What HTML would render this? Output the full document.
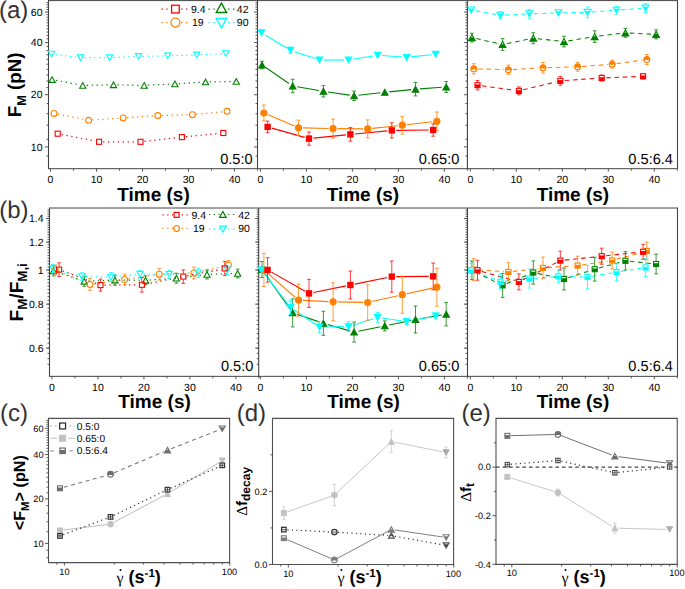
<!DOCTYPE html>
<html><head><meta charset="utf-8"><title>figure</title>
<style>
html,body{margin:0;padding:0;background:#fff;}
body{width:685px;height:589px;overflow:hidden;font-family:"Liberation Sans",sans-serif;}
svg{display:block;}

</style></head><body>
<svg width="685" height="589" viewBox="0 0 685 589" font-family="Liberation Sans, sans-serif" text-rendering="geometricPrecision">
<rect width="100%" height="100%" fill="#fff"/>
<line x1="48" y1="0.6" x2="678" y2="0.6" stroke="#444444" stroke-width="1" stroke-linecap="butt"/>
<line x1="48.5" y1="168.7" x2="677.5" y2="168.7" stroke="#444444" stroke-width="1" stroke-linecap="butt"/>
<line x1="677.5" y1="0.6" x2="677.5" y2="168.7" stroke="#444444" stroke-width="1.1" stroke-linecap="butt"/>
<line x1="48.5" y1="0.6" x2="48.5" y2="169.2" stroke="#444444" stroke-width="1.1" stroke-linecap="butt"/>
<line x1="45" y1="146.9" x2="48.5" y2="146.9" stroke="#444444" stroke-width="0.9" stroke-linecap="butt"/>
<line x1="45" y1="94.73" x2="48.5" y2="94.73" stroke="#444444" stroke-width="0.9" stroke-linecap="butt"/>
<line x1="45" y1="42.56" x2="48.5" y2="42.56" stroke="#444444" stroke-width="0.9" stroke-linecap="butt"/>
<line x1="45" y1="12.05" x2="48.5" y2="12.05" stroke="#444444" stroke-width="0.9" stroke-linecap="butt"/>
<line x1="46.5" y1="156" x2="48.5" y2="156" stroke="#444444" stroke-width="0.9" stroke-linecap="butt"/>
<line x1="46.5" y1="139.3" x2="48.5" y2="139.3" stroke="#444444" stroke-width="0.9" stroke-linecap="butt"/>
<line x1="46.5" y1="125.2" x2="48.5" y2="125.2" stroke="#444444" stroke-width="0.9" stroke-linecap="butt"/>
<line x1="46.5" y1="113.7" x2="48.5" y2="113.7" stroke="#444444" stroke-width="0.9" stroke-linecap="butt"/>
<line x1="46.5" y1="103.6" x2="48.5" y2="103.6" stroke="#444444" stroke-width="0.9" stroke-linecap="butt"/>
<line x1="46.5" y1="87.56" x2="48.5" y2="87.56" stroke="#444444" stroke-width="0.9" stroke-linecap="butt"/>
<line x1="46.5" y1="81.01" x2="48.5" y2="81.01" stroke="#444444" stroke-width="0.9" stroke-linecap="butt"/>
<line x1="46.5" y1="74.99" x2="48.5" y2="74.99" stroke="#444444" stroke-width="0.9" stroke-linecap="butt"/>
<line x1="46.5" y1="69.41" x2="48.5" y2="69.41" stroke="#444444" stroke-width="0.9" stroke-linecap="butt"/>
<line x1="46.5" y1="64.21" x2="48.5" y2="64.21" stroke="#444444" stroke-width="0.9" stroke-linecap="butt"/>
<line x1="46.5" y1="59.36" x2="48.5" y2="59.36" stroke="#444444" stroke-width="0.9" stroke-linecap="butt"/>
<line x1="46.5" y1="54.79" x2="48.5" y2="54.79" stroke="#444444" stroke-width="0.9" stroke-linecap="butt"/>
<line x1="46.5" y1="50.49" x2="48.5" y2="50.49" stroke="#444444" stroke-width="0.9" stroke-linecap="butt"/>
<line x1="46.5" y1="46.42" x2="48.5" y2="46.42" stroke="#444444" stroke-width="0.9" stroke-linecap="butt"/>
<line x1="46.5" y1="38.89" x2="48.5" y2="38.89" stroke="#444444" stroke-width="0.9" stroke-linecap="butt"/>
<line x1="46.5" y1="35.39" x2="48.5" y2="35.39" stroke="#444444" stroke-width="0.9" stroke-linecap="butt"/>
<line x1="46.5" y1="32.04" x2="48.5" y2="32.04" stroke="#444444" stroke-width="0.9" stroke-linecap="butt"/>
<line x1="46.5" y1="28.84" x2="48.5" y2="28.84" stroke="#444444" stroke-width="0.9" stroke-linecap="butt"/>
<line x1="46.5" y1="25.77" x2="48.5" y2="25.77" stroke="#444444" stroke-width="0.9" stroke-linecap="butt"/>
<line x1="46.5" y1="22.82" x2="48.5" y2="22.82" stroke="#444444" stroke-width="0.9" stroke-linecap="butt"/>
<line x1="46.5" y1="19.98" x2="48.5" y2="19.98" stroke="#444444" stroke-width="0.9" stroke-linecap="butt"/>
<line x1="46.5" y1="17.24" x2="48.5" y2="17.24" stroke="#444444" stroke-width="0.9" stroke-linecap="butt"/>
<line x1="46.5" y1="14.6" x2="48.5" y2="14.6" stroke="#444444" stroke-width="0.9" stroke-linecap="butt"/>
<line x1="46.5" y1="9.58" x2="48.5" y2="9.58" stroke="#444444" stroke-width="0.9" stroke-linecap="butt"/>
<line x1="46.5" y1="7.19" x2="48.5" y2="7.19" stroke="#444444" stroke-width="0.9" stroke-linecap="butt"/>
<line x1="46.5" y1="4.87" x2="48.5" y2="4.87" stroke="#444444" stroke-width="0.9" stroke-linecap="butt"/>
<line x1="46.5" y1="2.63" x2="48.5" y2="2.63" stroke="#444444" stroke-width="0.9" stroke-linecap="butt"/>
<line x1="257.5" y1="0.6" x2="257.5" y2="169.2" stroke="#444444" stroke-width="1.1" stroke-linecap="butt"/>
<line x1="254" y1="146.9" x2="257.5" y2="146.9" stroke="#444444" stroke-width="0.9" stroke-linecap="butt"/>
<line x1="254" y1="94.73" x2="257.5" y2="94.73" stroke="#444444" stroke-width="0.9" stroke-linecap="butt"/>
<line x1="254" y1="42.56" x2="257.5" y2="42.56" stroke="#444444" stroke-width="0.9" stroke-linecap="butt"/>
<line x1="254" y1="12.05" x2="257.5" y2="12.05" stroke="#444444" stroke-width="0.9" stroke-linecap="butt"/>
<line x1="255.5" y1="156" x2="257.5" y2="156" stroke="#444444" stroke-width="0.9" stroke-linecap="butt"/>
<line x1="255.5" y1="139.3" x2="257.5" y2="139.3" stroke="#444444" stroke-width="0.9" stroke-linecap="butt"/>
<line x1="255.5" y1="125.2" x2="257.5" y2="125.2" stroke="#444444" stroke-width="0.9" stroke-linecap="butt"/>
<line x1="255.5" y1="113.7" x2="257.5" y2="113.7" stroke="#444444" stroke-width="0.9" stroke-linecap="butt"/>
<line x1="255.5" y1="103.6" x2="257.5" y2="103.6" stroke="#444444" stroke-width="0.9" stroke-linecap="butt"/>
<line x1="255.5" y1="87.56" x2="257.5" y2="87.56" stroke="#444444" stroke-width="0.9" stroke-linecap="butt"/>
<line x1="255.5" y1="81.01" x2="257.5" y2="81.01" stroke="#444444" stroke-width="0.9" stroke-linecap="butt"/>
<line x1="255.5" y1="74.99" x2="257.5" y2="74.99" stroke="#444444" stroke-width="0.9" stroke-linecap="butt"/>
<line x1="255.5" y1="69.41" x2="257.5" y2="69.41" stroke="#444444" stroke-width="0.9" stroke-linecap="butt"/>
<line x1="255.5" y1="64.21" x2="257.5" y2="64.21" stroke="#444444" stroke-width="0.9" stroke-linecap="butt"/>
<line x1="255.5" y1="59.36" x2="257.5" y2="59.36" stroke="#444444" stroke-width="0.9" stroke-linecap="butt"/>
<line x1="255.5" y1="54.79" x2="257.5" y2="54.79" stroke="#444444" stroke-width="0.9" stroke-linecap="butt"/>
<line x1="255.5" y1="50.49" x2="257.5" y2="50.49" stroke="#444444" stroke-width="0.9" stroke-linecap="butt"/>
<line x1="255.5" y1="46.42" x2="257.5" y2="46.42" stroke="#444444" stroke-width="0.9" stroke-linecap="butt"/>
<line x1="255.5" y1="38.89" x2="257.5" y2="38.89" stroke="#444444" stroke-width="0.9" stroke-linecap="butt"/>
<line x1="255.5" y1="35.39" x2="257.5" y2="35.39" stroke="#444444" stroke-width="0.9" stroke-linecap="butt"/>
<line x1="255.5" y1="32.04" x2="257.5" y2="32.04" stroke="#444444" stroke-width="0.9" stroke-linecap="butt"/>
<line x1="255.5" y1="28.84" x2="257.5" y2="28.84" stroke="#444444" stroke-width="0.9" stroke-linecap="butt"/>
<line x1="255.5" y1="25.77" x2="257.5" y2="25.77" stroke="#444444" stroke-width="0.9" stroke-linecap="butt"/>
<line x1="255.5" y1="22.82" x2="257.5" y2="22.82" stroke="#444444" stroke-width="0.9" stroke-linecap="butt"/>
<line x1="255.5" y1="19.98" x2="257.5" y2="19.98" stroke="#444444" stroke-width="0.9" stroke-linecap="butt"/>
<line x1="255.5" y1="17.24" x2="257.5" y2="17.24" stroke="#444444" stroke-width="0.9" stroke-linecap="butt"/>
<line x1="255.5" y1="14.6" x2="257.5" y2="14.6" stroke="#444444" stroke-width="0.9" stroke-linecap="butt"/>
<line x1="255.5" y1="9.58" x2="257.5" y2="9.58" stroke="#444444" stroke-width="0.9" stroke-linecap="butt"/>
<line x1="255.5" y1="7.19" x2="257.5" y2="7.19" stroke="#444444" stroke-width="0.9" stroke-linecap="butt"/>
<line x1="255.5" y1="4.87" x2="257.5" y2="4.87" stroke="#444444" stroke-width="0.9" stroke-linecap="butt"/>
<line x1="255.5" y1="2.63" x2="257.5" y2="2.63" stroke="#444444" stroke-width="0.9" stroke-linecap="butt"/>
<line x1="467.4" y1="0.6" x2="467.4" y2="169.2" stroke="#444444" stroke-width="1.1" stroke-linecap="butt"/>
<line x1="463.9" y1="146.9" x2="467.4" y2="146.9" stroke="#444444" stroke-width="0.9" stroke-linecap="butt"/>
<line x1="463.9" y1="94.73" x2="467.4" y2="94.73" stroke="#444444" stroke-width="0.9" stroke-linecap="butt"/>
<line x1="463.9" y1="42.56" x2="467.4" y2="42.56" stroke="#444444" stroke-width="0.9" stroke-linecap="butt"/>
<line x1="463.9" y1="12.05" x2="467.4" y2="12.05" stroke="#444444" stroke-width="0.9" stroke-linecap="butt"/>
<line x1="465.4" y1="156" x2="467.4" y2="156" stroke="#444444" stroke-width="0.9" stroke-linecap="butt"/>
<line x1="465.4" y1="139.3" x2="467.4" y2="139.3" stroke="#444444" stroke-width="0.9" stroke-linecap="butt"/>
<line x1="465.4" y1="125.2" x2="467.4" y2="125.2" stroke="#444444" stroke-width="0.9" stroke-linecap="butt"/>
<line x1="465.4" y1="113.7" x2="467.4" y2="113.7" stroke="#444444" stroke-width="0.9" stroke-linecap="butt"/>
<line x1="465.4" y1="103.6" x2="467.4" y2="103.6" stroke="#444444" stroke-width="0.9" stroke-linecap="butt"/>
<line x1="465.4" y1="87.56" x2="467.4" y2="87.56" stroke="#444444" stroke-width="0.9" stroke-linecap="butt"/>
<line x1="465.4" y1="81.01" x2="467.4" y2="81.01" stroke="#444444" stroke-width="0.9" stroke-linecap="butt"/>
<line x1="465.4" y1="74.99" x2="467.4" y2="74.99" stroke="#444444" stroke-width="0.9" stroke-linecap="butt"/>
<line x1="465.4" y1="69.41" x2="467.4" y2="69.41" stroke="#444444" stroke-width="0.9" stroke-linecap="butt"/>
<line x1="465.4" y1="64.21" x2="467.4" y2="64.21" stroke="#444444" stroke-width="0.9" stroke-linecap="butt"/>
<line x1="465.4" y1="59.36" x2="467.4" y2="59.36" stroke="#444444" stroke-width="0.9" stroke-linecap="butt"/>
<line x1="465.4" y1="54.79" x2="467.4" y2="54.79" stroke="#444444" stroke-width="0.9" stroke-linecap="butt"/>
<line x1="465.4" y1="50.49" x2="467.4" y2="50.49" stroke="#444444" stroke-width="0.9" stroke-linecap="butt"/>
<line x1="465.4" y1="46.42" x2="467.4" y2="46.42" stroke="#444444" stroke-width="0.9" stroke-linecap="butt"/>
<line x1="465.4" y1="38.89" x2="467.4" y2="38.89" stroke="#444444" stroke-width="0.9" stroke-linecap="butt"/>
<line x1="465.4" y1="35.39" x2="467.4" y2="35.39" stroke="#444444" stroke-width="0.9" stroke-linecap="butt"/>
<line x1="465.4" y1="32.04" x2="467.4" y2="32.04" stroke="#444444" stroke-width="0.9" stroke-linecap="butt"/>
<line x1="465.4" y1="28.84" x2="467.4" y2="28.84" stroke="#444444" stroke-width="0.9" stroke-linecap="butt"/>
<line x1="465.4" y1="25.77" x2="467.4" y2="25.77" stroke="#444444" stroke-width="0.9" stroke-linecap="butt"/>
<line x1="465.4" y1="22.82" x2="467.4" y2="22.82" stroke="#444444" stroke-width="0.9" stroke-linecap="butt"/>
<line x1="465.4" y1="19.98" x2="467.4" y2="19.98" stroke="#444444" stroke-width="0.9" stroke-linecap="butt"/>
<line x1="465.4" y1="17.24" x2="467.4" y2="17.24" stroke="#444444" stroke-width="0.9" stroke-linecap="butt"/>
<line x1="465.4" y1="14.6" x2="467.4" y2="14.6" stroke="#444444" stroke-width="0.9" stroke-linecap="butt"/>
<line x1="465.4" y1="9.58" x2="467.4" y2="9.58" stroke="#444444" stroke-width="0.9" stroke-linecap="butt"/>
<line x1="465.4" y1="7.19" x2="467.4" y2="7.19" stroke="#444444" stroke-width="0.9" stroke-linecap="butt"/>
<line x1="465.4" y1="4.87" x2="467.4" y2="4.87" stroke="#444444" stroke-width="0.9" stroke-linecap="butt"/>
<line x1="465.4" y1="2.63" x2="467.4" y2="2.63" stroke="#444444" stroke-width="0.9" stroke-linecap="butt"/>
<line x1="50.5" y1="168.7" x2="50.5" y2="171.7" stroke="#444444" stroke-width="0.9" stroke-linecap="butt"/>
<line x1="96.5" y1="168.7" x2="96.5" y2="171.7" stroke="#444444" stroke-width="0.9" stroke-linecap="butt"/>
<line x1="142.5" y1="168.7" x2="142.5" y2="171.7" stroke="#444444" stroke-width="0.9" stroke-linecap="butt"/>
<line x1="188.5" y1="168.7" x2="188.5" y2="171.7" stroke="#444444" stroke-width="0.9" stroke-linecap="butt"/>
<line x1="234.5" y1="168.7" x2="234.5" y2="171.7" stroke="#444444" stroke-width="0.9" stroke-linecap="butt"/>
<line x1="73.5" y1="168.7" x2="73.5" y2="170.7" stroke="#444444" stroke-width="0.9" stroke-linecap="butt"/>
<line x1="119.5" y1="168.7" x2="119.5" y2="170.7" stroke="#444444" stroke-width="0.9" stroke-linecap="butt"/>
<line x1="165.5" y1="168.7" x2="165.5" y2="170.7" stroke="#444444" stroke-width="0.9" stroke-linecap="butt"/>
<line x1="211.5" y1="168.7" x2="211.5" y2="170.7" stroke="#444444" stroke-width="0.9" stroke-linecap="butt"/>
<line x1="257.5" y1="168.7" x2="257.5" y2="170.7" stroke="#444444" stroke-width="0.9" stroke-linecap="butt"/>
<text x="50.5" y="183.3" font-size="10.5" text-anchor="middle" font-weight="normal" fill="#000">0</text>
<text x="96.5" y="183.3" font-size="10.5" text-anchor="middle" font-weight="normal" fill="#000">10</text>
<text x="142.5" y="183.3" font-size="10.5" text-anchor="middle" font-weight="normal" fill="#000">20</text>
<text x="188.5" y="183.3" font-size="10.5" text-anchor="middle" font-weight="normal" fill="#000">30</text>
<text x="234.5" y="183.3" font-size="10.5" text-anchor="middle" font-weight="normal" fill="#000">40</text>
<line x1="260.4" y1="168.7" x2="260.4" y2="171.7" stroke="#444444" stroke-width="0.9" stroke-linecap="butt"/>
<line x1="306.4" y1="168.7" x2="306.4" y2="171.7" stroke="#444444" stroke-width="0.9" stroke-linecap="butt"/>
<line x1="352.4" y1="168.7" x2="352.4" y2="171.7" stroke="#444444" stroke-width="0.9" stroke-linecap="butt"/>
<line x1="398.4" y1="168.7" x2="398.4" y2="171.7" stroke="#444444" stroke-width="0.9" stroke-linecap="butt"/>
<line x1="444.4" y1="168.7" x2="444.4" y2="171.7" stroke="#444444" stroke-width="0.9" stroke-linecap="butt"/>
<line x1="283.4" y1="168.7" x2="283.4" y2="170.7" stroke="#444444" stroke-width="0.9" stroke-linecap="butt"/>
<line x1="329.4" y1="168.7" x2="329.4" y2="170.7" stroke="#444444" stroke-width="0.9" stroke-linecap="butt"/>
<line x1="375.4" y1="168.7" x2="375.4" y2="170.7" stroke="#444444" stroke-width="0.9" stroke-linecap="butt"/>
<line x1="421.4" y1="168.7" x2="421.4" y2="170.7" stroke="#444444" stroke-width="0.9" stroke-linecap="butt"/>
<line x1="467.4" y1="168.7" x2="467.4" y2="170.7" stroke="#444444" stroke-width="0.9" stroke-linecap="butt"/>
<text x="260.4" y="183.3" font-size="10.5" text-anchor="middle" font-weight="normal" fill="#000">0</text>
<text x="306.4" y="183.3" font-size="10.5" text-anchor="middle" font-weight="normal" fill="#000">10</text>
<text x="352.4" y="183.3" font-size="10.5" text-anchor="middle" font-weight="normal" fill="#000">20</text>
<text x="398.4" y="183.3" font-size="10.5" text-anchor="middle" font-weight="normal" fill="#000">30</text>
<text x="444.4" y="183.3" font-size="10.5" text-anchor="middle" font-weight="normal" fill="#000">40</text>
<line x1="470.3" y1="168.7" x2="470.3" y2="171.7" stroke="#444444" stroke-width="0.9" stroke-linecap="butt"/>
<line x1="516.3" y1="168.7" x2="516.3" y2="171.7" stroke="#444444" stroke-width="0.9" stroke-linecap="butt"/>
<line x1="562.3" y1="168.7" x2="562.3" y2="171.7" stroke="#444444" stroke-width="0.9" stroke-linecap="butt"/>
<line x1="608.3" y1="168.7" x2="608.3" y2="171.7" stroke="#444444" stroke-width="0.9" stroke-linecap="butt"/>
<line x1="654.3" y1="168.7" x2="654.3" y2="171.7" stroke="#444444" stroke-width="0.9" stroke-linecap="butt"/>
<line x1="493.3" y1="168.7" x2="493.3" y2="170.7" stroke="#444444" stroke-width="0.9" stroke-linecap="butt"/>
<line x1="539.3" y1="168.7" x2="539.3" y2="170.7" stroke="#444444" stroke-width="0.9" stroke-linecap="butt"/>
<line x1="585.3" y1="168.7" x2="585.3" y2="170.7" stroke="#444444" stroke-width="0.9" stroke-linecap="butt"/>
<line x1="631.3" y1="168.7" x2="631.3" y2="170.7" stroke="#444444" stroke-width="0.9" stroke-linecap="butt"/>
<line x1="677.3" y1="168.7" x2="677.3" y2="170.7" stroke="#444444" stroke-width="0.9" stroke-linecap="butt"/>
<text x="470.3" y="183.3" font-size="10.5" text-anchor="middle" font-weight="normal" fill="#000">0</text>
<text x="516.3" y="183.3" font-size="10.5" text-anchor="middle" font-weight="normal" fill="#000">10</text>
<text x="562.3" y="183.3" font-size="10.5" text-anchor="middle" font-weight="normal" fill="#000">20</text>
<text x="608.3" y="183.3" font-size="10.5" text-anchor="middle" font-weight="normal" fill="#000">30</text>
<text x="654.3" y="183.3" font-size="10.5" text-anchor="middle" font-weight="normal" fill="#000">40</text>
<text x="42.5" y="150.6" font-size="10.5" text-anchor="end" font-weight="normal" fill="#000">10</text>
<text x="42.5" y="98.43" font-size="10.5" text-anchor="end" font-weight="normal" fill="#000">20</text>
<text x="42.5" y="46.26" font-size="10.5" text-anchor="end" font-weight="normal" fill="#000">40</text>
<text x="42.5" y="15.75" font-size="10.5" text-anchor="end" font-weight="normal" fill="#000">60</text>
<text x="153.5" y="200.9" font-size="19" text-anchor="middle" font-weight="bold" fill="#000">Time (s)</text>
<text x="362.95" y="200.9" font-size="19" text-anchor="middle" font-weight="bold" fill="#000">Time (s)</text>
<text x="572.95" y="200.9" font-size="19" text-anchor="middle" font-weight="bold" fill="#000">Time (s)</text>
<line x1="56.03" y1="80.34" x2="78.87" y2="84.66" stroke="#008000" stroke-width="1.2" stroke-linecap="butt" stroke-dasharray="1.3 3.6"/>
<line x1="86.8" y1="85.32" x2="109.5" y2="84.88" stroke="#008000" stroke-width="1.2" stroke-linecap="butt" stroke-dasharray="1.3 3.6"/>
<line x1="117.5" y1="84.88" x2="140.2" y2="85.32" stroke="#008000" stroke-width="1.2" stroke-linecap="butt" stroke-dasharray="1.3 3.6"/>
<line x1="148.2" y1="85.2" x2="170.9" y2="84.1" stroke="#008000" stroke-width="1.2" stroke-linecap="butt" stroke-dasharray="1.3 3.6"/>
<line x1="178.89" y1="83.65" x2="201.61" y2="82.25" stroke="#008000" stroke-width="1.2" stroke-linecap="butt" stroke-dasharray="1.3 3.6"/>
<line x1="209.6" y1="81.93" x2="232.3" y2="81.57" stroke="#008000" stroke-width="1.2" stroke-linecap="butt" stroke-dasharray="1.3 3.6"/>
<line x1="57.92" y1="114.18" x2="84.68" y2="119.52" stroke="#ff8000" stroke-width="1.2" stroke-linecap="butt" stroke-dasharray="1.3 3.6"/>
<line x1="92.59" y1="120.02" x2="119.21" y2="118.18" stroke="#ff8000" stroke-width="1.2" stroke-linecap="butt" stroke-dasharray="1.3 3.6"/>
<line x1="127.19" y1="117.63" x2="153.81" y2="115.87" stroke="#ff8000" stroke-width="1.2" stroke-linecap="butt" stroke-dasharray="1.3 3.6"/>
<line x1="161.8" y1="115.5" x2="188.4" y2="114.8" stroke="#ff8000" stroke-width="1.2" stroke-linecap="butt" stroke-dasharray="1.3 3.6"/>
<line x1="196.38" y1="114.31" x2="223.02" y2="111.69" stroke="#ff8000" stroke-width="1.2" stroke-linecap="butt" stroke-dasharray="1.3 3.6"/>
<line x1="55.47" y1="54.51" x2="76.58" y2="57.19" stroke="#00ffff" stroke-width="1.2" stroke-linecap="butt" stroke-dasharray="1.3 3.6"/>
<line x1="84.55" y1="57.7" x2="105.6" y2="57.7" stroke="#00ffff" stroke-width="1.2" stroke-linecap="butt" stroke-dasharray="1.3 3.6"/>
<line x1="113.6" y1="57.52" x2="134.65" y2="56.58" stroke="#00ffff" stroke-width="1.2" stroke-linecap="butt" stroke-dasharray="1.3 3.6"/>
<line x1="142.65" y1="56.33" x2="163.7" y2="55.97" stroke="#00ffff" stroke-width="1.2" stroke-linecap="butt" stroke-dasharray="1.3 3.6"/>
<line x1="171.7" y1="55.76" x2="192.75" y2="55.04" stroke="#00ffff" stroke-width="1.2" stroke-linecap="butt" stroke-dasharray="1.3 3.6"/>
<line x1="200.75" y1="54.72" x2="221.8" y2="53.78" stroke="#00ffff" stroke-width="1.2" stroke-linecap="butt" stroke-dasharray="1.3 3.6"/>
<line x1="61.63" y1="134.47" x2="95.17" y2="141.03" stroke="#ff0000" stroke-width="1.2" stroke-linecap="butt" stroke-dasharray="1.3 3.6"/>
<line x1="103.1" y1="141.8" x2="136.5" y2="141.8" stroke="#ff0000" stroke-width="1.2" stroke-linecap="butt" stroke-dasharray="1.3 3.6"/>
<line x1="144.47" y1="141.35" x2="177.93" y2="137.55" stroke="#ff0000" stroke-width="1.2" stroke-linecap="butt" stroke-dasharray="1.3 3.6"/>
<line x1="185.88" y1="136.71" x2="219.32" y2="133.39" stroke="#ff0000" stroke-width="1.2" stroke-linecap="butt" stroke-dasharray="1.3 3.6"/>
<polygon points="52.1,76.79 55.23,82.41 48.98,82.41" fill="none" stroke="#008000" stroke-width="1.1" stroke-linejoin="miter"/>
<polygon points="82.8,82.59 85.92,88.21 79.67,88.21" fill="none" stroke="#008000" stroke-width="1.1" stroke-linejoin="miter"/>
<polygon points="113.5,81.99 116.62,87.61 110.38,87.61" fill="none" stroke="#008000" stroke-width="1.1" stroke-linejoin="miter"/>
<polygon points="144.2,82.59 147.32,88.21 141.07,88.21" fill="none" stroke="#008000" stroke-width="1.1" stroke-linejoin="miter"/>
<polygon points="174.9,81.09 178.03,86.71 171.78,86.71" fill="none" stroke="#008000" stroke-width="1.1" stroke-linejoin="miter"/>
<polygon points="205.6,79.19 208.72,84.81 202.47,84.81" fill="none" stroke="#008000" stroke-width="1.1" stroke-linejoin="miter"/>
<polygon points="236.3,78.69 239.42,84.31 233.17,84.31" fill="none" stroke="#008000" stroke-width="1.1" stroke-linejoin="miter"/>
<circle cx="54" cy="113.4" r="2.95" fill="none" stroke="#ff8000" stroke-width="1.1"/>
<circle cx="88.6" cy="120.3" r="2.95" fill="none" stroke="#ff8000" stroke-width="1.1"/>
<circle cx="123.2" cy="117.9" r="2.95" fill="none" stroke="#ff8000" stroke-width="1.1"/>
<circle cx="157.8" cy="115.6" r="2.95" fill="none" stroke="#ff8000" stroke-width="1.1"/>
<circle cx="192.4" cy="114.7" r="2.95" fill="none" stroke="#ff8000" stroke-width="1.1"/>
<circle cx="227" cy="111.3" r="2.95" fill="none" stroke="#ff8000" stroke-width="1.1"/>
<polygon points="48.38,51.19 54.62,51.19 51.5,56.81" fill="none" stroke="#00ffff" stroke-width="1.1" stroke-linejoin="miter"/>
<polygon points="77.42,54.89 83.67,54.89 80.55,60.51" fill="none" stroke="#00ffff" stroke-width="1.1" stroke-linejoin="miter"/>
<polygon points="106.47,54.89 112.72,54.89 109.6,60.51" fill="none" stroke="#00ffff" stroke-width="1.1" stroke-linejoin="miter"/>
<polygon points="135.53,53.59 141.78,53.59 138.65,59.21" fill="none" stroke="#00ffff" stroke-width="1.1" stroke-linejoin="miter"/>
<polygon points="164.57,53.09 170.82,53.09 167.7,58.71" fill="none" stroke="#00ffff" stroke-width="1.1" stroke-linejoin="miter"/>
<polygon points="193.62,52.09 199.88,52.09 196.75,57.71" fill="none" stroke="#00ffff" stroke-width="1.1" stroke-linejoin="miter"/>
<polygon points="222.68,50.79 228.93,50.79 225.8,56.41" fill="none" stroke="#00ffff" stroke-width="1.1" stroke-linejoin="miter"/>
<rect x="55.17" y="131.17" width="5.06" height="5.06" fill="none" stroke="#ff0000" stroke-width="1.1"/>
<rect x="96.57" y="139.27" width="5.06" height="5.06" fill="none" stroke="#ff0000" stroke-width="1.1"/>
<rect x="137.97" y="139.27" width="5.06" height="5.06" fill="none" stroke="#ff0000" stroke-width="1.1"/>
<rect x="179.37" y="134.57" width="5.06" height="5.06" fill="none" stroke="#ff0000" stroke-width="1.1"/>
<rect x="220.77" y="130.47" width="5.06" height="5.06" fill="none" stroke="#ff0000" stroke-width="1.1"/>
<line x1="265.71" y1="67.54" x2="288.99" y2="83.46" stroke="#008000" stroke-width="1.1" stroke-linecap="butt"/>
<line x1="297.13" y1="86.77" x2="318.97" y2="90.53" stroke="#008000" stroke-width="1.1" stroke-linecap="butt"/>
<line x1="327.85" y1="91.95" x2="349.65" y2="95.15" stroke="#008000" stroke-width="1.1" stroke-linecap="butt"/>
<line x1="358.57" y1="95.29" x2="380.33" y2="92.81" stroke="#008000" stroke-width="1.1" stroke-linecap="butt"/>
<line x1="389.28" y1="91.85" x2="411.02" y2="89.65" stroke="#008000" stroke-width="1.1" stroke-linecap="butt"/>
<line x1="419.99" y1="88.88" x2="441.71" y2="87.32" stroke="#008000" stroke-width="1.1" stroke-linecap="butt"/>
<line x1="268.04" y1="114.77" x2="294.36" y2="126.03" stroke="#ff8000" stroke-width="1.1" stroke-linecap="butt"/>
<line x1="303" y1="127.9" x2="328.6" y2="128.5" stroke="#ff8000" stroke-width="1.1" stroke-linecap="butt"/>
<line x1="337.6" y1="128.64" x2="363.2" y2="128.86" stroke="#ff8000" stroke-width="1.1" stroke-linecap="butt"/>
<line x1="372.17" y1="128.42" x2="397.83" y2="125.68" stroke="#ff8000" stroke-width="1.1" stroke-linecap="butt"/>
<line x1="406.77" y1="124.7" x2="432.43" y2="121.8" stroke="#ff8000" stroke-width="1.1" stroke-linecap="butt"/>
<line x1="265.24" y1="34.94" x2="286.61" y2="47.96" stroke="#00ffff" stroke-width="1.1" stroke-linecap="butt"/>
<line x1="294.72" y1="51.73" x2="315.23" y2="58.57" stroke="#00ffff" stroke-width="1.1" stroke-linecap="butt"/>
<line x1="324" y1="60" x2="344.05" y2="60" stroke="#00ffff" stroke-width="1.1" stroke-linecap="butt"/>
<line x1="352.99" y1="59.27" x2="373.16" y2="55.93" stroke="#00ffff" stroke-width="1.1" stroke-linecap="butt"/>
<line x1="382.09" y1="55.54" x2="402.16" y2="57.06" stroke="#00ffff" stroke-width="1.1" stroke-linecap="butt"/>
<line x1="411.12" y1="56.91" x2="431.23" y2="54.69" stroke="#00ffff" stroke-width="1.1" stroke-linecap="butt"/>
<line x1="271.93" y1="128.12" x2="304.67" y2="137.38" stroke="#ff0000" stroke-width="1.1" stroke-linecap="butt"/>
<line x1="313.48" y1="138.15" x2="345.92" y2="134.85" stroke="#ff0000" stroke-width="1.1" stroke-linecap="butt"/>
<line x1="354.88" y1="133.97" x2="387.32" y2="130.83" stroke="#ff0000" stroke-width="1.1" stroke-linecap="butt"/>
<line x1="396.3" y1="130.36" x2="428.7" y2="130.04" stroke="#ff0000" stroke-width="1.1" stroke-linecap="butt"/>
<path d="M262 61.2V68.8M260.1 61.2H263.9M260.1 68.8H263.9" stroke="#008000" stroke-width="0.85" stroke-opacity="0.9" fill="none"/>
<polygon points="262,62.09 265.23,67.91 258.77,67.91" fill="#008000" stroke="#008000" stroke-width="1.1" stroke-linejoin="miter"/>
<path d="M292.7 79.3V92.7M290.8 79.3H294.6M290.8 92.7H294.6" stroke="#008000" stroke-width="0.85" stroke-opacity="0.9" fill="none"/>
<polygon points="292.7,83.09 295.93,88.91 289.47,88.91" fill="#008000" stroke="#008000" stroke-width="1.1" stroke-linejoin="miter"/>
<path d="M323.4 85.6V97M321.5 85.6H325.3M321.5 97H325.3" stroke="#008000" stroke-width="0.85" stroke-opacity="0.9" fill="none"/>
<polygon points="323.4,88.39 326.63,94.21 320.17,94.21" fill="#008000" stroke="#008000" stroke-width="1.1" stroke-linejoin="miter"/>
<path d="M354.1 91.05V100.55M352.2 91.05H356M352.2 100.55H356" stroke="#008000" stroke-width="0.85" stroke-opacity="0.9" fill="none"/>
<polygon points="354.1,92.89 357.33,98.71 350.87,98.71" fill="#008000" stroke="#008000" stroke-width="1.1" stroke-linejoin="miter"/>
<polygon points="384.8,89.39 388.03,95.21 381.57,95.21" fill="#008000" stroke="#008000" stroke-width="1.1" stroke-linejoin="miter"/>
<path d="M415.5 82.5V95.9M413.6 82.5H417.4M413.6 95.9H417.4" stroke="#008000" stroke-width="0.85" stroke-opacity="0.9" fill="none"/>
<polygon points="415.5,86.29 418.73,92.11 412.27,92.11" fill="#008000" stroke="#008000" stroke-width="1.1" stroke-linejoin="miter"/>
<path d="M446.2 81.5V92.5M444.3 81.5H448.1M444.3 92.5H448.1" stroke="#008000" stroke-width="0.85" stroke-opacity="0.9" fill="none"/>
<polygon points="446.2,84.09 449.43,89.91 442.97,89.91" fill="#008000" stroke="#008000" stroke-width="1.1" stroke-linejoin="miter"/>
<path d="M263.9 105V121M262 105H265.8M262 121H265.8" stroke="#ff8000" stroke-width="0.85" stroke-opacity="0.9" fill="none"/>
<circle cx="263.9" cy="113" r="3.05" fill="#ff8000" stroke="#ff8000" stroke-width="1.1"/>
<path d="M298.5 120.1V135.5M296.6 120.1H300.4M296.6 135.5H300.4" stroke="#ff8000" stroke-width="0.85" stroke-opacity="0.9" fill="none"/>
<circle cx="298.5" cy="127.8" r="3.05" fill="#ff8000" stroke="#ff8000" stroke-width="1.1"/>
<path d="M333.1 119.1V138.1M331.2 119.1H335M331.2 138.1H335" stroke="#ff8000" stroke-width="0.85" stroke-opacity="0.9" fill="none"/>
<circle cx="333.1" cy="128.6" r="3.05" fill="#ff8000" stroke="#ff8000" stroke-width="1.1"/>
<path d="M367.7 119.9V137.9M365.8 119.9H369.6M365.8 137.9H369.6" stroke="#ff8000" stroke-width="0.85" stroke-opacity="0.9" fill="none"/>
<circle cx="367.7" cy="128.9" r="3.05" fill="#ff8000" stroke="#ff8000" stroke-width="1.1"/>
<path d="M402.3 116.3V134.1M400.4 116.3H404.2M400.4 134.1H404.2" stroke="#ff8000" stroke-width="0.85" stroke-opacity="0.9" fill="none"/>
<circle cx="402.3" cy="125.2" r="3.05" fill="#ff8000" stroke="#ff8000" stroke-width="1.1"/>
<path d="M436.9 112V130.6M435 112H438.8M435 130.6H438.8" stroke="#ff8000" stroke-width="0.85" stroke-opacity="0.9" fill="none"/>
<circle cx="436.9" cy="121.3" r="3.05" fill="#ff8000" stroke="#ff8000" stroke-width="1.1"/>
<polygon points="258.17,29.69 264.63,29.69 261.4,35.51" fill="#00ffff" stroke="#00ffff" stroke-width="1.1" stroke-linejoin="miter"/>
<path d="M290.45 47.1V53.5M288.55 47.1H292.35M288.55 53.5H292.35" stroke="#00ffff" stroke-width="0.85" stroke-opacity="0.9" fill="none"/>
<polygon points="287.22,47.39 293.68,47.39 290.45,53.21" fill="#00ffff" stroke="#00ffff" stroke-width="1.1" stroke-linejoin="miter"/>
<polygon points="316.27,57.09 322.73,57.09 319.5,62.91" fill="#00ffff" stroke="#00ffff" stroke-width="1.1" stroke-linejoin="miter"/>
<polygon points="345.32,57.09 351.78,57.09 348.55,62.91" fill="#00ffff" stroke="#00ffff" stroke-width="1.1" stroke-linejoin="miter"/>
<polygon points="374.37,52.29 380.83,52.29 377.6,58.11" fill="#00ffff" stroke="#00ffff" stroke-width="1.1" stroke-linejoin="miter"/>
<polygon points="403.42,54.49 409.88,54.49 406.65,60.31" fill="#00ffff" stroke="#00ffff" stroke-width="1.1" stroke-linejoin="miter"/>
<polygon points="432.47,51.29 438.93,51.29 435.7,57.11" fill="#00ffff" stroke="#00ffff" stroke-width="1.1" stroke-linejoin="miter"/>
<path d="M267.6 121.1V132.7M265.7 121.1H269.5M265.7 132.7H269.5" stroke="#ff0000" stroke-width="0.85" stroke-opacity="0.9" fill="none"/>
<rect x="264.98" y="124.28" width="5.24" height="5.24" fill="#ff0000" stroke="#ff0000" stroke-width="1.1"/>
<path d="M309 132V145.2M307.1 132H310.9M307.1 145.2H310.9" stroke="#ff0000" stroke-width="0.85" stroke-opacity="0.9" fill="none"/>
<rect x="306.38" y="135.98" width="5.24" height="5.24" fill="#ff0000" stroke="#ff0000" stroke-width="1.1"/>
<path d="M350.4 127.6V141.2M348.5 127.6H352.3M348.5 141.2H352.3" stroke="#ff0000" stroke-width="0.85" stroke-opacity="0.9" fill="none"/>
<rect x="347.78" y="131.78" width="5.24" height="5.24" fill="#ff0000" stroke="#ff0000" stroke-width="1.1"/>
<path d="M391.8 122.8V138M389.9 122.8H393.7M389.9 138H393.7" stroke="#ff0000" stroke-width="0.85" stroke-opacity="0.9" fill="none"/>
<rect x="389.18" y="127.78" width="5.24" height="5.24" fill="#ff0000" stroke="#ff0000" stroke-width="1.1"/>
<path d="M433.2 123.8V136.2M431.3 123.8H435.1M431.3 136.2H435.1" stroke="#ff0000" stroke-width="0.85" stroke-opacity="0.9" fill="none"/>
<rect x="430.58" y="127.38" width="5.24" height="5.24" fill="#ff0000" stroke="#ff0000" stroke-width="1.1"/>
<line x1="476.29" y1="38.59" x2="498.21" y2="43.51" stroke="#008000" stroke-width="1.05" stroke-linecap="butt" stroke-dasharray="4.5 3.8"/>
<line x1="507.01" y1="43.6" x2="528.89" y2="39.1" stroke="#008000" stroke-width="1.05" stroke-linecap="butt" stroke-dasharray="4.5 3.8"/>
<line x1="537.77" y1="38.7" x2="559.53" y2="41.1" stroke="#008000" stroke-width="1.05" stroke-linecap="butt" stroke-dasharray="4.5 3.8"/>
<line x1="568.44" y1="40.88" x2="590.26" y2="37.32" stroke="#008000" stroke-width="1.05" stroke-linecap="butt" stroke-dasharray="4.5 3.8"/>
<line x1="599.17" y1="36.06" x2="620.93" y2="33.44" stroke="#008000" stroke-width="1.05" stroke-linecap="butt" stroke-dasharray="4.5 3.8"/>
<line x1="629.89" y1="33.12" x2="651.61" y2="34.18" stroke="#008000" stroke-width="1.05" stroke-linecap="butt" stroke-dasharray="4.5 3.8"/>
<line x1="478.3" y1="68.92" x2="503.9" y2="69.58" stroke="#ff8000" stroke-width="1.05" stroke-linecap="butt" stroke-dasharray="4.5 3.8"/>
<line x1="512.89" y1="69.45" x2="538.51" y2="68.05" stroke="#ff8000" stroke-width="1.05" stroke-linecap="butt" stroke-dasharray="4.5 3.8"/>
<line x1="547.5" y1="67.67" x2="573.1" y2="66.93" stroke="#ff8000" stroke-width="1.05" stroke-linecap="butt" stroke-dasharray="4.5 3.8"/>
<line x1="582.09" y1="66.46" x2="607.71" y2="64.54" stroke="#ff8000" stroke-width="1.05" stroke-linecap="butt" stroke-dasharray="4.5 3.8"/>
<line x1="616.66" y1="63.59" x2="642.34" y2="60.11" stroke="#ff8000" stroke-width="1.05" stroke-linecap="butt" stroke-dasharray="4.5 3.8"/>
<line x1="475.73" y1="10.81" x2="495.92" y2="14.49" stroke="#00ffff" stroke-width="1.05" stroke-linecap="butt" stroke-dasharray="4.5 3.8"/>
<line x1="504.84" y1="15.08" x2="524.91" y2="14.12" stroke="#00ffff" stroke-width="1.05" stroke-linecap="butt" stroke-dasharray="4.5 3.8"/>
<line x1="533.9" y1="13.73" x2="553.95" y2="12.97" stroke="#00ffff" stroke-width="1.05" stroke-linecap="butt" stroke-dasharray="4.5 3.8"/>
<line x1="562.95" y1="12.74" x2="583" y2="12.46" stroke="#00ffff" stroke-width="1.05" stroke-linecap="butt" stroke-dasharray="4.5 3.8"/>
<line x1="591.99" y1="12.06" x2="612.06" y2="10.54" stroke="#00ffff" stroke-width="1.05" stroke-linecap="butt" stroke-dasharray="4.5 3.8"/>
<line x1="621.04" y1="9.88" x2="641.11" y2="8.42" stroke="#00ffff" stroke-width="1.05" stroke-linecap="butt" stroke-dasharray="4.5 3.8"/>
<line x1="481.96" y1="85.81" x2="514.44" y2="90.29" stroke="#ff0000" stroke-width="1.05" stroke-linecap="butt" stroke-dasharray="4.5 3.8"/>
<line x1="523.27" y1="89.83" x2="555.93" y2="81.87" stroke="#ff0000" stroke-width="1.05" stroke-linecap="butt" stroke-dasharray="4.5 3.8"/>
<line x1="564.79" y1="80.5" x2="597.21" y2="78.3" stroke="#ff0000" stroke-width="1.05" stroke-linecap="butt" stroke-dasharray="4.5 3.8"/>
<line x1="606.2" y1="77.82" x2="638.6" y2="76.48" stroke="#ff0000" stroke-width="1.05" stroke-linecap="butt" stroke-dasharray="4.5 3.8"/>
<path d="M471.9 33.2V42M470 33.2H473.8M470 42H473.8" stroke="#008000" stroke-width="0.85" stroke-opacity="0.9" fill="none"/>
<polygon points="471.9,34.59 475.25,40.61 468.55,40.61" fill="white" stroke="#008000" stroke-width="1.1" stroke-linejoin="miter"/>
<polygon points="470.39,37.3 473.41,37.3 475.25,40.61 468.55,40.61" fill="#008000"/>
<path d="M502.6 38.6V50.4M500.7 38.6H504.5M500.7 50.4H504.5" stroke="#008000" stroke-width="0.85" stroke-opacity="0.9" fill="none"/>
<polygon points="502.6,41.49 505.95,47.51 499.25,47.51" fill="white" stroke="#008000" stroke-width="1.1" stroke-linejoin="miter"/>
<polygon points="501.09,44.2 504.11,44.2 505.95,47.51 499.25,47.51" fill="#008000"/>
<path d="M533.3 32.7V43.7M531.4 32.7H535.2M531.4 43.7H535.2" stroke="#008000" stroke-width="0.85" stroke-opacity="0.9" fill="none"/>
<polygon points="533.3,35.19 536.65,41.21 529.95,41.21" fill="white" stroke="#008000" stroke-width="1.1" stroke-linejoin="miter"/>
<polygon points="531.79,37.9 534.81,37.9 536.65,41.21 529.95,41.21" fill="#008000"/>
<path d="M564 36.3V46.9M562.1 36.3H565.9M562.1 46.9H565.9" stroke="#008000" stroke-width="0.85" stroke-opacity="0.9" fill="none"/>
<polygon points="564,38.59 567.35,44.61 560.65,44.61" fill="white" stroke="#008000" stroke-width="1.1" stroke-linejoin="miter"/>
<polygon points="562.49,41.3 565.51,41.3 567.35,44.61 560.65,44.61" fill="#008000"/>
<path d="M594.7 30.8V42.4M592.8 30.8H596.6M592.8 42.4H596.6" stroke="#008000" stroke-width="0.85" stroke-opacity="0.9" fill="none"/>
<polygon points="594.7,33.59 598.05,39.61 591.35,39.61" fill="white" stroke="#008000" stroke-width="1.1" stroke-linejoin="miter"/>
<polygon points="593.19,36.3 596.21,36.3 598.05,39.61 591.35,39.61" fill="#008000"/>
<path d="M625.4 28.5V37.3M623.5 28.5H627.3M623.5 37.3H627.3" stroke="#008000" stroke-width="0.85" stroke-opacity="0.9" fill="none"/>
<polygon points="625.4,29.89 628.75,35.91 622.05,35.91" fill="white" stroke="#008000" stroke-width="1.1" stroke-linejoin="miter"/>
<polygon points="623.89,32.6 626.91,32.6 628.75,35.91 622.05,35.91" fill="#008000"/>
<path d="M656.1 29.9V38.9M654.2 29.9H658M654.2 38.9H658" stroke="#008000" stroke-width="0.85" stroke-opacity="0.9" fill="none"/>
<polygon points="656.1,31.39 659.45,37.41 652.75,37.41" fill="white" stroke="#008000" stroke-width="1.1" stroke-linejoin="miter"/>
<polygon points="654.59,34.1 657.61,34.1 659.45,37.41 652.75,37.41" fill="#008000"/>
<path d="M473.8 63.7V73.9M471.9 63.7H475.7M471.9 73.9H475.7" stroke="#ff8000" stroke-width="0.85" stroke-opacity="0.9" fill="none"/>
<circle cx="473.8" cy="68.8" r="2.95" fill="white" stroke="#ff8000" stroke-width="1.1"/>
<path d="M470.91 69.39A2.95 2.95 0 1 1 476.69 69.39Z" fill="#ff8000"/>
<path d="M508.4 65.1V74.3M506.5 65.1H510.3M506.5 74.3H510.3" stroke="#ff8000" stroke-width="0.85" stroke-opacity="0.9" fill="none"/>
<circle cx="508.4" cy="69.7" r="2.95" fill="white" stroke="#ff8000" stroke-width="1.1"/>
<path d="M505.51 70.29A2.95 2.95 0 1 1 511.29 70.29Z" fill="#ff8000"/>
<path d="M543 62.5V73.1M541.1 62.5H544.9M541.1 73.1H544.9" stroke="#ff8000" stroke-width="0.85" stroke-opacity="0.9" fill="none"/>
<circle cx="543" cy="67.8" r="2.95" fill="white" stroke="#ff8000" stroke-width="1.1"/>
<path d="M540.11 68.39A2.95 2.95 0 1 1 545.89 68.39Z" fill="#ff8000"/>
<path d="M577.6 62.4V71.2M575.7 62.4H579.5M575.7 71.2H579.5" stroke="#ff8000" stroke-width="0.85" stroke-opacity="0.9" fill="none"/>
<circle cx="577.6" cy="66.8" r="2.95" fill="white" stroke="#ff8000" stroke-width="1.1"/>
<path d="M574.71 67.39A2.95 2.95 0 1 1 580.49 67.39Z" fill="#ff8000"/>
<path d="M612.2 60.2V68.2M610.3 60.2H614.1M610.3 68.2H614.1" stroke="#ff8000" stroke-width="0.85" stroke-opacity="0.9" fill="none"/>
<circle cx="612.2" cy="64.2" r="2.95" fill="white" stroke="#ff8000" stroke-width="1.1"/>
<path d="M609.31 64.79A2.95 2.95 0 1 1 615.09 64.79Z" fill="#ff8000"/>
<path d="M646.8 54.5V64.5M644.9 54.5H648.7M644.9 64.5H648.7" stroke="#ff8000" stroke-width="0.85" stroke-opacity="0.9" fill="none"/>
<circle cx="646.8" cy="59.5" r="2.95" fill="white" stroke="#ff8000" stroke-width="1.1"/>
<path d="M643.91 60.09A2.95 2.95 0 1 1 649.69 60.09Z" fill="#ff8000"/>
<polygon points="467.95,6.99 474.65,6.99 471.3,13.01" fill="white" stroke="#00ffff" stroke-width="1.1" stroke-linejoin="miter"/>
<polygon points="468.82,8.55 473.78,8.55 471.3,13.01" fill="#00ffff"/>
<path d="M500.35 11.8V18.8M498.45 11.8H502.25M498.45 18.8H502.25" stroke="#00ffff" stroke-width="0.85" stroke-opacity="0.9" fill="none"/>
<polygon points="497,12.29 503.7,12.29 500.35,18.31" fill="white" stroke="#00ffff" stroke-width="1.1" stroke-linejoin="miter"/>
<polygon points="497.87,13.85 502.83,13.85 500.35,18.31" fill="#00ffff"/>
<path d="M529.4 9.5V18.3M527.5 9.5H531.3M527.5 18.3H531.3" stroke="#00ffff" stroke-width="0.85" stroke-opacity="0.9" fill="none"/>
<polygon points="526.05,10.89 532.75,10.89 529.4,16.91" fill="white" stroke="#00ffff" stroke-width="1.1" stroke-linejoin="miter"/>
<polygon points="526.92,12.45 531.88,12.45 529.4,16.91" fill="#00ffff"/>
<polygon points="555.1,9.79 561.8,9.79 558.45,15.81" fill="white" stroke="#00ffff" stroke-width="1.1" stroke-linejoin="miter"/>
<polygon points="555.97,11.35 560.93,11.35 558.45,15.81" fill="#00ffff"/>
<path d="M587.5 6.9V17.9M585.6 6.9H589.4M585.6 17.9H589.4" stroke="#00ffff" stroke-width="0.85" stroke-opacity="0.9" fill="none"/>
<polygon points="584.15,9.39 590.85,9.39 587.5,15.41" fill="white" stroke="#00ffff" stroke-width="1.1" stroke-linejoin="miter"/>
<polygon points="585.02,10.95 589.98,10.95 587.5,15.41" fill="#00ffff"/>
<path d="M616.55 6.4V14M614.65 6.4H618.45M614.65 14H618.45" stroke="#00ffff" stroke-width="0.85" stroke-opacity="0.9" fill="none"/>
<polygon points="613.2,7.19 619.9,7.19 616.55,13.21" fill="white" stroke="#00ffff" stroke-width="1.1" stroke-linejoin="miter"/>
<polygon points="614.07,8.75 619.03,8.75 616.55,13.21" fill="#00ffff"/>
<path d="M645.6 3.7V12.5M643.7 3.7H647.5M643.7 12.5H647.5" stroke="#00ffff" stroke-width="0.85" stroke-opacity="0.9" fill="none"/>
<polygon points="642.25,5.09 648.95,5.09 645.6,11.11" fill="white" stroke="#00ffff" stroke-width="1.1" stroke-linejoin="miter"/>
<polygon points="643.12,6.65 648.08,6.65 645.6,11.11" fill="#00ffff"/>
<path d="M477.5 80.5V89.9M475.6 80.5H479.4M475.6 89.9H479.4" stroke="#ff0000" stroke-width="0.85" stroke-opacity="0.9" fill="none"/>
<rect x="474.97" y="82.67" width="5.06" height="5.06" fill="white" stroke="#ff0000" stroke-width="1.1"/>
<rect x="474.97" y="84.44" width="5.06" height="3.29" fill="#ff0000"/>
<path d="M518.9 86.9V94.9M517 86.9H520.8M517 94.9H520.8" stroke="#ff0000" stroke-width="0.85" stroke-opacity="0.9" fill="none"/>
<rect x="516.37" y="88.37" width="5.06" height="5.06" fill="white" stroke="#ff0000" stroke-width="1.1"/>
<rect x="516.37" y="90.14" width="5.06" height="3.29" fill="#ff0000"/>
<path d="M560.3 76.4V85.2M558.4 76.4H562.2M558.4 85.2H562.2" stroke="#ff0000" stroke-width="0.85" stroke-opacity="0.9" fill="none"/>
<rect x="557.77" y="78.27" width="5.06" height="5.06" fill="white" stroke="#ff0000" stroke-width="1.1"/>
<rect x="557.77" y="80.04" width="5.06" height="3.29" fill="#ff0000"/>
<path d="M601.7 75V81M599.8 75H603.6M599.8 81H603.6" stroke="#ff0000" stroke-width="0.85" stroke-opacity="0.9" fill="none"/>
<rect x="599.17" y="75.47" width="5.06" height="5.06" fill="white" stroke="#ff0000" stroke-width="1.1"/>
<rect x="599.17" y="77.24" width="5.06" height="3.29" fill="#ff0000"/>
<path d="M643.1 73.8V78.8M641.2 73.8H645M641.2 78.8H645" stroke="#ff0000" stroke-width="0.85" stroke-opacity="0.9" fill="none"/>
<rect x="640.57" y="73.77" width="5.06" height="5.06" fill="white" stroke="#ff0000" stroke-width="1.1"/>
<rect x="640.57" y="75.54" width="5.06" height="3.29" fill="#ff0000"/>
<text x="252.6" y="163.6" font-size="14.6" text-anchor="end" font-weight="normal" fill="#000">0.5:0</text>
<text x="459.4" y="163.6" font-size="14.6" text-anchor="end" font-weight="normal" fill="#000">0.65:0</text>
<text x="673" y="163.6" font-size="14.6" text-anchor="end" font-weight="normal" fill="#000">0.5:6.4</text>
<line x1="161.5" y1="9.1" x2="189.5" y2="9.1" stroke="#ff0000" stroke-width="1.3" stroke-linecap="butt" stroke-dasharray="1.3 3.6"/>
<rect x="171.56" y="5.26" width="7.68" height="7.68" fill="white" stroke="#ff0000" stroke-width="1.3"/>
<text x="191" y="12.8" font-size="10.5" text-anchor="start" font-weight="normal" fill="#000">9.4</text>
<line x1="161.5" y1="22.6" x2="189.5" y2="22.6" stroke="#ff8000" stroke-width="1.3" stroke-linecap="butt" stroke-dasharray="1.3 3.6"/>
<circle cx="175.4" cy="22.6" r="4.45" fill="white" stroke="#ff8000" stroke-width="1.3"/>
<text x="192" y="26.3" font-size="10.5" text-anchor="start" font-weight="normal" fill="#000">19</text>
<line x1="208.5" y1="9.1" x2="234.5" y2="9.1" stroke="#008000" stroke-width="1.3" stroke-linecap="butt" stroke-dasharray="1.3 3.6"/>
<polygon points="221.4,3.12 226.58,12.48 216.22,12.48" fill="white" stroke="#008000" stroke-width="1.4" stroke-linejoin="miter"/>
<text x="236.8" y="12.8" font-size="10.5" text-anchor="start" font-weight="normal" fill="#000">42</text>
<line x1="208.5" y1="22.6" x2="234.5" y2="22.6" stroke="#00ffff" stroke-width="1.3" stroke-linecap="butt" stroke-dasharray="1.3 3.6"/>
<polygon points="216.22,18.52 226.58,18.52 221.4,27.88" fill="white" stroke="#00ffff" stroke-width="1.4" stroke-linejoin="miter"/>
<text x="236.8" y="26.3" font-size="10.5" text-anchor="start" font-weight="normal" fill="#000">90</text>
<text x="20.8" y="117.2" font-size="18.7" text-anchor="start" font-weight="bold" fill="#000" transform="rotate(-90 20.8 117.2)">F<tspan font-size="12.8" dy="5.0">M</tspan><tspan dy="-5.0"> (pN)</tspan></text>
<text x="-1" y="17.9" font-size="24" text-anchor="start" font-weight="normal" fill="#333">(a)</text>
<line x1="49" y1="208" x2="678" y2="208" stroke="#444444" stroke-width="1" stroke-linecap="butt"/>
<line x1="49.5" y1="376.35" x2="677.5" y2="376.35" stroke="#444444" stroke-width="1" stroke-linecap="butt"/>
<line x1="677.5" y1="208" x2="677.5" y2="376.35" stroke="#444444" stroke-width="1.1" stroke-linecap="butt"/>
<line x1="49.5" y1="208" x2="49.5" y2="376.85" stroke="#444444" stroke-width="1.1" stroke-linecap="butt"/>
<line x1="46" y1="348.16" x2="49.5" y2="348.16" stroke="#444444" stroke-width="0.9" stroke-linecap="butt"/>
<line x1="46" y1="304.14" x2="49.5" y2="304.14" stroke="#444444" stroke-width="0.9" stroke-linecap="butt"/>
<line x1="46" y1="270" x2="49.5" y2="270" stroke="#444444" stroke-width="0.9" stroke-linecap="butt"/>
<line x1="46" y1="242.1" x2="49.5" y2="242.1" stroke="#444444" stroke-width="0.9" stroke-linecap="butt"/>
<line x1="46" y1="218.52" x2="49.5" y2="218.52" stroke="#444444" stroke-width="0.9" stroke-linecap="butt"/>
<line x1="47.5" y1="364.28" x2="49.5" y2="364.28" stroke="#444444" stroke-width="0.9" stroke-linecap="butt"/>
<line x1="47.5" y1="358.71" x2="49.5" y2="358.71" stroke="#444444" stroke-width="0.9" stroke-linecap="butt"/>
<line x1="47.5" y1="353.34" x2="49.5" y2="353.34" stroke="#444444" stroke-width="0.9" stroke-linecap="butt"/>
<line x1="47.5" y1="348.16" x2="49.5" y2="348.16" stroke="#444444" stroke-width="0.9" stroke-linecap="butt"/>
<line x1="47.5" y1="343.14" x2="49.5" y2="343.14" stroke="#444444" stroke-width="0.9" stroke-linecap="butt"/>
<line x1="47.5" y1="338.28" x2="49.5" y2="338.28" stroke="#444444" stroke-width="0.9" stroke-linecap="butt"/>
<line x1="47.5" y1="333.57" x2="49.5" y2="333.57" stroke="#444444" stroke-width="0.9" stroke-linecap="butt"/>
<line x1="47.5" y1="329.01" x2="49.5" y2="329.01" stroke="#444444" stroke-width="0.9" stroke-linecap="butt"/>
<line x1="47.5" y1="324.57" x2="49.5" y2="324.57" stroke="#444444" stroke-width="0.9" stroke-linecap="butt"/>
<line x1="47.5" y1="320.26" x2="49.5" y2="320.26" stroke="#444444" stroke-width="0.9" stroke-linecap="butt"/>
<line x1="47.5" y1="316.07" x2="49.5" y2="316.07" stroke="#444444" stroke-width="0.9" stroke-linecap="butt"/>
<line x1="47.5" y1="311.99" x2="49.5" y2="311.99" stroke="#444444" stroke-width="0.9" stroke-linecap="butt"/>
<line x1="47.5" y1="308.02" x2="49.5" y2="308.02" stroke="#444444" stroke-width="0.9" stroke-linecap="butt"/>
<line x1="47.5" y1="304.14" x2="49.5" y2="304.14" stroke="#444444" stroke-width="0.9" stroke-linecap="butt"/>
<line x1="47.5" y1="300.36" x2="49.5" y2="300.36" stroke="#444444" stroke-width="0.9" stroke-linecap="butt"/>
<line x1="47.5" y1="296.68" x2="49.5" y2="296.68" stroke="#444444" stroke-width="0.9" stroke-linecap="butt"/>
<line x1="47.5" y1="293.08" x2="49.5" y2="293.08" stroke="#444444" stroke-width="0.9" stroke-linecap="butt"/>
<line x1="47.5" y1="289.56" x2="49.5" y2="289.56" stroke="#444444" stroke-width="0.9" stroke-linecap="butt"/>
<line x1="47.5" y1="286.12" x2="49.5" y2="286.12" stroke="#444444" stroke-width="0.9" stroke-linecap="butt"/>
<line x1="47.5" y1="282.76" x2="49.5" y2="282.76" stroke="#444444" stroke-width="0.9" stroke-linecap="butt"/>
<line x1="47.5" y1="279.47" x2="49.5" y2="279.47" stroke="#444444" stroke-width="0.9" stroke-linecap="butt"/>
<line x1="47.5" y1="276.25" x2="49.5" y2="276.25" stroke="#444444" stroke-width="0.9" stroke-linecap="butt"/>
<line x1="47.5" y1="273.09" x2="49.5" y2="273.09" stroke="#444444" stroke-width="0.9" stroke-linecap="butt"/>
<line x1="47.5" y1="270" x2="49.5" y2="270" stroke="#444444" stroke-width="0.9" stroke-linecap="butt"/>
<line x1="47.5" y1="266.97" x2="49.5" y2="266.97" stroke="#444444" stroke-width="0.9" stroke-linecap="butt"/>
<line x1="47.5" y1="264" x2="49.5" y2="264" stroke="#444444" stroke-width="0.9" stroke-linecap="butt"/>
<line x1="47.5" y1="261.08" x2="49.5" y2="261.08" stroke="#444444" stroke-width="0.9" stroke-linecap="butt"/>
<line x1="47.5" y1="258.22" x2="49.5" y2="258.22" stroke="#444444" stroke-width="0.9" stroke-linecap="butt"/>
<line x1="47.5" y1="255.42" x2="49.5" y2="255.42" stroke="#444444" stroke-width="0.9" stroke-linecap="butt"/>
<line x1="47.5" y1="252.66" x2="49.5" y2="252.66" stroke="#444444" stroke-width="0.9" stroke-linecap="butt"/>
<line x1="47.5" y1="249.95" x2="49.5" y2="249.95" stroke="#444444" stroke-width="0.9" stroke-linecap="butt"/>
<line x1="47.5" y1="247.29" x2="49.5" y2="247.29" stroke="#444444" stroke-width="0.9" stroke-linecap="butt"/>
<line x1="47.5" y1="244.68" x2="49.5" y2="244.68" stroke="#444444" stroke-width="0.9" stroke-linecap="butt"/>
<line x1="47.5" y1="242.1" x2="49.5" y2="242.1" stroke="#444444" stroke-width="0.9" stroke-linecap="butt"/>
<line x1="47.5" y1="239.58" x2="49.5" y2="239.58" stroke="#444444" stroke-width="0.9" stroke-linecap="butt"/>
<line x1="47.5" y1="237.09" x2="49.5" y2="237.09" stroke="#444444" stroke-width="0.9" stroke-linecap="butt"/>
<line x1="47.5" y1="234.64" x2="49.5" y2="234.64" stroke="#444444" stroke-width="0.9" stroke-linecap="butt"/>
<line x1="47.5" y1="232.23" x2="49.5" y2="232.23" stroke="#444444" stroke-width="0.9" stroke-linecap="butt"/>
<line x1="47.5" y1="229.86" x2="49.5" y2="229.86" stroke="#444444" stroke-width="0.9" stroke-linecap="butt"/>
<line x1="47.5" y1="227.52" x2="49.5" y2="227.52" stroke="#444444" stroke-width="0.9" stroke-linecap="butt"/>
<line x1="47.5" y1="225.22" x2="49.5" y2="225.22" stroke="#444444" stroke-width="0.9" stroke-linecap="butt"/>
<line x1="47.5" y1="222.95" x2="49.5" y2="222.95" stroke="#444444" stroke-width="0.9" stroke-linecap="butt"/>
<line x1="47.5" y1="220.72" x2="49.5" y2="220.72" stroke="#444444" stroke-width="0.9" stroke-linecap="butt"/>
<line x1="47.5" y1="218.52" x2="49.5" y2="218.52" stroke="#444444" stroke-width="0.9" stroke-linecap="butt"/>
<line x1="47.5" y1="216.35" x2="49.5" y2="216.35" stroke="#444444" stroke-width="0.9" stroke-linecap="butt"/>
<line x1="47.5" y1="214.21" x2="49.5" y2="214.21" stroke="#444444" stroke-width="0.9" stroke-linecap="butt"/>
<line x1="47.5" y1="212.1" x2="49.5" y2="212.1" stroke="#444444" stroke-width="0.9" stroke-linecap="butt"/>
<line x1="47.5" y1="210.02" x2="49.5" y2="210.02" stroke="#444444" stroke-width="0.9" stroke-linecap="butt"/>
<line x1="258.7" y1="208" x2="258.7" y2="376.85" stroke="#444444" stroke-width="1.1" stroke-linecap="butt"/>
<line x1="255.2" y1="348.16" x2="258.7" y2="348.16" stroke="#444444" stroke-width="0.9" stroke-linecap="butt"/>
<line x1="255.2" y1="304.14" x2="258.7" y2="304.14" stroke="#444444" stroke-width="0.9" stroke-linecap="butt"/>
<line x1="255.2" y1="270" x2="258.7" y2="270" stroke="#444444" stroke-width="0.9" stroke-linecap="butt"/>
<line x1="255.2" y1="242.1" x2="258.7" y2="242.1" stroke="#444444" stroke-width="0.9" stroke-linecap="butt"/>
<line x1="255.2" y1="218.52" x2="258.7" y2="218.52" stroke="#444444" stroke-width="0.9" stroke-linecap="butt"/>
<line x1="256.7" y1="364.28" x2="258.7" y2="364.28" stroke="#444444" stroke-width="0.9" stroke-linecap="butt"/>
<line x1="256.7" y1="358.71" x2="258.7" y2="358.71" stroke="#444444" stroke-width="0.9" stroke-linecap="butt"/>
<line x1="256.7" y1="353.34" x2="258.7" y2="353.34" stroke="#444444" stroke-width="0.9" stroke-linecap="butt"/>
<line x1="256.7" y1="348.16" x2="258.7" y2="348.16" stroke="#444444" stroke-width="0.9" stroke-linecap="butt"/>
<line x1="256.7" y1="343.14" x2="258.7" y2="343.14" stroke="#444444" stroke-width="0.9" stroke-linecap="butt"/>
<line x1="256.7" y1="338.28" x2="258.7" y2="338.28" stroke="#444444" stroke-width="0.9" stroke-linecap="butt"/>
<line x1="256.7" y1="333.57" x2="258.7" y2="333.57" stroke="#444444" stroke-width="0.9" stroke-linecap="butt"/>
<line x1="256.7" y1="329.01" x2="258.7" y2="329.01" stroke="#444444" stroke-width="0.9" stroke-linecap="butt"/>
<line x1="256.7" y1="324.57" x2="258.7" y2="324.57" stroke="#444444" stroke-width="0.9" stroke-linecap="butt"/>
<line x1="256.7" y1="320.26" x2="258.7" y2="320.26" stroke="#444444" stroke-width="0.9" stroke-linecap="butt"/>
<line x1="256.7" y1="316.07" x2="258.7" y2="316.07" stroke="#444444" stroke-width="0.9" stroke-linecap="butt"/>
<line x1="256.7" y1="311.99" x2="258.7" y2="311.99" stroke="#444444" stroke-width="0.9" stroke-linecap="butt"/>
<line x1="256.7" y1="308.02" x2="258.7" y2="308.02" stroke="#444444" stroke-width="0.9" stroke-linecap="butt"/>
<line x1="256.7" y1="304.14" x2="258.7" y2="304.14" stroke="#444444" stroke-width="0.9" stroke-linecap="butt"/>
<line x1="256.7" y1="300.36" x2="258.7" y2="300.36" stroke="#444444" stroke-width="0.9" stroke-linecap="butt"/>
<line x1="256.7" y1="296.68" x2="258.7" y2="296.68" stroke="#444444" stroke-width="0.9" stroke-linecap="butt"/>
<line x1="256.7" y1="293.08" x2="258.7" y2="293.08" stroke="#444444" stroke-width="0.9" stroke-linecap="butt"/>
<line x1="256.7" y1="289.56" x2="258.7" y2="289.56" stroke="#444444" stroke-width="0.9" stroke-linecap="butt"/>
<line x1="256.7" y1="286.12" x2="258.7" y2="286.12" stroke="#444444" stroke-width="0.9" stroke-linecap="butt"/>
<line x1="256.7" y1="282.76" x2="258.7" y2="282.76" stroke="#444444" stroke-width="0.9" stroke-linecap="butt"/>
<line x1="256.7" y1="279.47" x2="258.7" y2="279.47" stroke="#444444" stroke-width="0.9" stroke-linecap="butt"/>
<line x1="256.7" y1="276.25" x2="258.7" y2="276.25" stroke="#444444" stroke-width="0.9" stroke-linecap="butt"/>
<line x1="256.7" y1="273.09" x2="258.7" y2="273.09" stroke="#444444" stroke-width="0.9" stroke-linecap="butt"/>
<line x1="256.7" y1="270" x2="258.7" y2="270" stroke="#444444" stroke-width="0.9" stroke-linecap="butt"/>
<line x1="256.7" y1="266.97" x2="258.7" y2="266.97" stroke="#444444" stroke-width="0.9" stroke-linecap="butt"/>
<line x1="256.7" y1="264" x2="258.7" y2="264" stroke="#444444" stroke-width="0.9" stroke-linecap="butt"/>
<line x1="256.7" y1="261.08" x2="258.7" y2="261.08" stroke="#444444" stroke-width="0.9" stroke-linecap="butt"/>
<line x1="256.7" y1="258.22" x2="258.7" y2="258.22" stroke="#444444" stroke-width="0.9" stroke-linecap="butt"/>
<line x1="256.7" y1="255.42" x2="258.7" y2="255.42" stroke="#444444" stroke-width="0.9" stroke-linecap="butt"/>
<line x1="256.7" y1="252.66" x2="258.7" y2="252.66" stroke="#444444" stroke-width="0.9" stroke-linecap="butt"/>
<line x1="256.7" y1="249.95" x2="258.7" y2="249.95" stroke="#444444" stroke-width="0.9" stroke-linecap="butt"/>
<line x1="256.7" y1="247.29" x2="258.7" y2="247.29" stroke="#444444" stroke-width="0.9" stroke-linecap="butt"/>
<line x1="256.7" y1="244.68" x2="258.7" y2="244.68" stroke="#444444" stroke-width="0.9" stroke-linecap="butt"/>
<line x1="256.7" y1="242.1" x2="258.7" y2="242.1" stroke="#444444" stroke-width="0.9" stroke-linecap="butt"/>
<line x1="256.7" y1="239.58" x2="258.7" y2="239.58" stroke="#444444" stroke-width="0.9" stroke-linecap="butt"/>
<line x1="256.7" y1="237.09" x2="258.7" y2="237.09" stroke="#444444" stroke-width="0.9" stroke-linecap="butt"/>
<line x1="256.7" y1="234.64" x2="258.7" y2="234.64" stroke="#444444" stroke-width="0.9" stroke-linecap="butt"/>
<line x1="256.7" y1="232.23" x2="258.7" y2="232.23" stroke="#444444" stroke-width="0.9" stroke-linecap="butt"/>
<line x1="256.7" y1="229.86" x2="258.7" y2="229.86" stroke="#444444" stroke-width="0.9" stroke-linecap="butt"/>
<line x1="256.7" y1="227.52" x2="258.7" y2="227.52" stroke="#444444" stroke-width="0.9" stroke-linecap="butt"/>
<line x1="256.7" y1="225.22" x2="258.7" y2="225.22" stroke="#444444" stroke-width="0.9" stroke-linecap="butt"/>
<line x1="256.7" y1="222.95" x2="258.7" y2="222.95" stroke="#444444" stroke-width="0.9" stroke-linecap="butt"/>
<line x1="256.7" y1="220.72" x2="258.7" y2="220.72" stroke="#444444" stroke-width="0.9" stroke-linecap="butt"/>
<line x1="256.7" y1="218.52" x2="258.7" y2="218.52" stroke="#444444" stroke-width="0.9" stroke-linecap="butt"/>
<line x1="256.7" y1="216.35" x2="258.7" y2="216.35" stroke="#444444" stroke-width="0.9" stroke-linecap="butt"/>
<line x1="256.7" y1="214.21" x2="258.7" y2="214.21" stroke="#444444" stroke-width="0.9" stroke-linecap="butt"/>
<line x1="256.7" y1="212.1" x2="258.7" y2="212.1" stroke="#444444" stroke-width="0.9" stroke-linecap="butt"/>
<line x1="256.7" y1="210.02" x2="258.7" y2="210.02" stroke="#444444" stroke-width="0.9" stroke-linecap="butt"/>
<line x1="467.5" y1="208" x2="467.5" y2="376.85" stroke="#444444" stroke-width="1.1" stroke-linecap="butt"/>
<line x1="464" y1="348.16" x2="467.5" y2="348.16" stroke="#444444" stroke-width="0.9" stroke-linecap="butt"/>
<line x1="464" y1="304.14" x2="467.5" y2="304.14" stroke="#444444" stroke-width="0.9" stroke-linecap="butt"/>
<line x1="464" y1="270" x2="467.5" y2="270" stroke="#444444" stroke-width="0.9" stroke-linecap="butt"/>
<line x1="464" y1="242.1" x2="467.5" y2="242.1" stroke="#444444" stroke-width="0.9" stroke-linecap="butt"/>
<line x1="464" y1="218.52" x2="467.5" y2="218.52" stroke="#444444" stroke-width="0.9" stroke-linecap="butt"/>
<line x1="465.5" y1="364.28" x2="467.5" y2="364.28" stroke="#444444" stroke-width="0.9" stroke-linecap="butt"/>
<line x1="465.5" y1="358.71" x2="467.5" y2="358.71" stroke="#444444" stroke-width="0.9" stroke-linecap="butt"/>
<line x1="465.5" y1="353.34" x2="467.5" y2="353.34" stroke="#444444" stroke-width="0.9" stroke-linecap="butt"/>
<line x1="465.5" y1="348.16" x2="467.5" y2="348.16" stroke="#444444" stroke-width="0.9" stroke-linecap="butt"/>
<line x1="465.5" y1="343.14" x2="467.5" y2="343.14" stroke="#444444" stroke-width="0.9" stroke-linecap="butt"/>
<line x1="465.5" y1="338.28" x2="467.5" y2="338.28" stroke="#444444" stroke-width="0.9" stroke-linecap="butt"/>
<line x1="465.5" y1="333.57" x2="467.5" y2="333.57" stroke="#444444" stroke-width="0.9" stroke-linecap="butt"/>
<line x1="465.5" y1="329.01" x2="467.5" y2="329.01" stroke="#444444" stroke-width="0.9" stroke-linecap="butt"/>
<line x1="465.5" y1="324.57" x2="467.5" y2="324.57" stroke="#444444" stroke-width="0.9" stroke-linecap="butt"/>
<line x1="465.5" y1="320.26" x2="467.5" y2="320.26" stroke="#444444" stroke-width="0.9" stroke-linecap="butt"/>
<line x1="465.5" y1="316.07" x2="467.5" y2="316.07" stroke="#444444" stroke-width="0.9" stroke-linecap="butt"/>
<line x1="465.5" y1="311.99" x2="467.5" y2="311.99" stroke="#444444" stroke-width="0.9" stroke-linecap="butt"/>
<line x1="465.5" y1="308.02" x2="467.5" y2="308.02" stroke="#444444" stroke-width="0.9" stroke-linecap="butt"/>
<line x1="465.5" y1="304.14" x2="467.5" y2="304.14" stroke="#444444" stroke-width="0.9" stroke-linecap="butt"/>
<line x1="465.5" y1="300.36" x2="467.5" y2="300.36" stroke="#444444" stroke-width="0.9" stroke-linecap="butt"/>
<line x1="465.5" y1="296.68" x2="467.5" y2="296.68" stroke="#444444" stroke-width="0.9" stroke-linecap="butt"/>
<line x1="465.5" y1="293.08" x2="467.5" y2="293.08" stroke="#444444" stroke-width="0.9" stroke-linecap="butt"/>
<line x1="465.5" y1="289.56" x2="467.5" y2="289.56" stroke="#444444" stroke-width="0.9" stroke-linecap="butt"/>
<line x1="465.5" y1="286.12" x2="467.5" y2="286.12" stroke="#444444" stroke-width="0.9" stroke-linecap="butt"/>
<line x1="465.5" y1="282.76" x2="467.5" y2="282.76" stroke="#444444" stroke-width="0.9" stroke-linecap="butt"/>
<line x1="465.5" y1="279.47" x2="467.5" y2="279.47" stroke="#444444" stroke-width="0.9" stroke-linecap="butt"/>
<line x1="465.5" y1="276.25" x2="467.5" y2="276.25" stroke="#444444" stroke-width="0.9" stroke-linecap="butt"/>
<line x1="465.5" y1="273.09" x2="467.5" y2="273.09" stroke="#444444" stroke-width="0.9" stroke-linecap="butt"/>
<line x1="465.5" y1="270" x2="467.5" y2="270" stroke="#444444" stroke-width="0.9" stroke-linecap="butt"/>
<line x1="465.5" y1="266.97" x2="467.5" y2="266.97" stroke="#444444" stroke-width="0.9" stroke-linecap="butt"/>
<line x1="465.5" y1="264" x2="467.5" y2="264" stroke="#444444" stroke-width="0.9" stroke-linecap="butt"/>
<line x1="465.5" y1="261.08" x2="467.5" y2="261.08" stroke="#444444" stroke-width="0.9" stroke-linecap="butt"/>
<line x1="465.5" y1="258.22" x2="467.5" y2="258.22" stroke="#444444" stroke-width="0.9" stroke-linecap="butt"/>
<line x1="465.5" y1="255.42" x2="467.5" y2="255.42" stroke="#444444" stroke-width="0.9" stroke-linecap="butt"/>
<line x1="465.5" y1="252.66" x2="467.5" y2="252.66" stroke="#444444" stroke-width="0.9" stroke-linecap="butt"/>
<line x1="465.5" y1="249.95" x2="467.5" y2="249.95" stroke="#444444" stroke-width="0.9" stroke-linecap="butt"/>
<line x1="465.5" y1="247.29" x2="467.5" y2="247.29" stroke="#444444" stroke-width="0.9" stroke-linecap="butt"/>
<line x1="465.5" y1="244.68" x2="467.5" y2="244.68" stroke="#444444" stroke-width="0.9" stroke-linecap="butt"/>
<line x1="465.5" y1="242.1" x2="467.5" y2="242.1" stroke="#444444" stroke-width="0.9" stroke-linecap="butt"/>
<line x1="465.5" y1="239.58" x2="467.5" y2="239.58" stroke="#444444" stroke-width="0.9" stroke-linecap="butt"/>
<line x1="465.5" y1="237.09" x2="467.5" y2="237.09" stroke="#444444" stroke-width="0.9" stroke-linecap="butt"/>
<line x1="465.5" y1="234.64" x2="467.5" y2="234.64" stroke="#444444" stroke-width="0.9" stroke-linecap="butt"/>
<line x1="465.5" y1="232.23" x2="467.5" y2="232.23" stroke="#444444" stroke-width="0.9" stroke-linecap="butt"/>
<line x1="465.5" y1="229.86" x2="467.5" y2="229.86" stroke="#444444" stroke-width="0.9" stroke-linecap="butt"/>
<line x1="465.5" y1="227.52" x2="467.5" y2="227.52" stroke="#444444" stroke-width="0.9" stroke-linecap="butt"/>
<line x1="465.5" y1="225.22" x2="467.5" y2="225.22" stroke="#444444" stroke-width="0.9" stroke-linecap="butt"/>
<line x1="465.5" y1="222.95" x2="467.5" y2="222.95" stroke="#444444" stroke-width="0.9" stroke-linecap="butt"/>
<line x1="465.5" y1="220.72" x2="467.5" y2="220.72" stroke="#444444" stroke-width="0.9" stroke-linecap="butt"/>
<line x1="465.5" y1="218.52" x2="467.5" y2="218.52" stroke="#444444" stroke-width="0.9" stroke-linecap="butt"/>
<line x1="465.5" y1="216.35" x2="467.5" y2="216.35" stroke="#444444" stroke-width="0.9" stroke-linecap="butt"/>
<line x1="465.5" y1="214.21" x2="467.5" y2="214.21" stroke="#444444" stroke-width="0.9" stroke-linecap="butt"/>
<line x1="465.5" y1="212.1" x2="467.5" y2="212.1" stroke="#444444" stroke-width="0.9" stroke-linecap="butt"/>
<line x1="465.5" y1="210.02" x2="467.5" y2="210.02" stroke="#444444" stroke-width="0.9" stroke-linecap="butt"/>
<line x1="51.9" y1="376.35" x2="51.9" y2="379.35" stroke="#444444" stroke-width="0.9" stroke-linecap="butt"/>
<line x1="97.9" y1="376.35" x2="97.9" y2="379.35" stroke="#444444" stroke-width="0.9" stroke-linecap="butt"/>
<line x1="143.9" y1="376.35" x2="143.9" y2="379.35" stroke="#444444" stroke-width="0.9" stroke-linecap="butt"/>
<line x1="189.9" y1="376.35" x2="189.9" y2="379.35" stroke="#444444" stroke-width="0.9" stroke-linecap="butt"/>
<line x1="235.9" y1="376.35" x2="235.9" y2="379.35" stroke="#444444" stroke-width="0.9" stroke-linecap="butt"/>
<line x1="74.9" y1="376.35" x2="74.9" y2="378.35" stroke="#444444" stroke-width="0.9" stroke-linecap="butt"/>
<line x1="120.9" y1="376.35" x2="120.9" y2="378.35" stroke="#444444" stroke-width="0.9" stroke-linecap="butt"/>
<line x1="166.9" y1="376.35" x2="166.9" y2="378.35" stroke="#444444" stroke-width="0.9" stroke-linecap="butt"/>
<line x1="212.9" y1="376.35" x2="212.9" y2="378.35" stroke="#444444" stroke-width="0.9" stroke-linecap="butt"/>
<line x1="258.9" y1="376.35" x2="258.9" y2="378.35" stroke="#444444" stroke-width="0.9" stroke-linecap="butt"/>
<text x="51.9" y="390.95" font-size="10.5" text-anchor="middle" font-weight="normal" fill="#000">0</text>
<text x="97.9" y="390.95" font-size="10.5" text-anchor="middle" font-weight="normal" fill="#000">10</text>
<text x="143.9" y="390.95" font-size="10.5" text-anchor="middle" font-weight="normal" fill="#000">20</text>
<text x="189.9" y="390.95" font-size="10.5" text-anchor="middle" font-weight="normal" fill="#000">30</text>
<text x="235.9" y="390.95" font-size="10.5" text-anchor="middle" font-weight="normal" fill="#000">40</text>
<line x1="260.4" y1="376.35" x2="260.4" y2="379.35" stroke="#444444" stroke-width="0.9" stroke-linecap="butt"/>
<line x1="306.4" y1="376.35" x2="306.4" y2="379.35" stroke="#444444" stroke-width="0.9" stroke-linecap="butt"/>
<line x1="352.4" y1="376.35" x2="352.4" y2="379.35" stroke="#444444" stroke-width="0.9" stroke-linecap="butt"/>
<line x1="398.4" y1="376.35" x2="398.4" y2="379.35" stroke="#444444" stroke-width="0.9" stroke-linecap="butt"/>
<line x1="444.4" y1="376.35" x2="444.4" y2="379.35" stroke="#444444" stroke-width="0.9" stroke-linecap="butt"/>
<line x1="283.4" y1="376.35" x2="283.4" y2="378.35" stroke="#444444" stroke-width="0.9" stroke-linecap="butt"/>
<line x1="329.4" y1="376.35" x2="329.4" y2="378.35" stroke="#444444" stroke-width="0.9" stroke-linecap="butt"/>
<line x1="375.4" y1="376.35" x2="375.4" y2="378.35" stroke="#444444" stroke-width="0.9" stroke-linecap="butt"/>
<line x1="421.4" y1="376.35" x2="421.4" y2="378.35" stroke="#444444" stroke-width="0.9" stroke-linecap="butt"/>
<line x1="467.4" y1="376.35" x2="467.4" y2="378.35" stroke="#444444" stroke-width="0.9" stroke-linecap="butt"/>
<text x="260.4" y="390.95" font-size="10.5" text-anchor="middle" font-weight="normal" fill="#000">0</text>
<text x="306.4" y="390.95" font-size="10.5" text-anchor="middle" font-weight="normal" fill="#000">10</text>
<text x="352.4" y="390.95" font-size="10.5" text-anchor="middle" font-weight="normal" fill="#000">20</text>
<text x="398.4" y="390.95" font-size="10.5" text-anchor="middle" font-weight="normal" fill="#000">30</text>
<text x="444.4" y="390.95" font-size="10.5" text-anchor="middle" font-weight="normal" fill="#000">40</text>
<line x1="470.3" y1="376.35" x2="470.3" y2="379.35" stroke="#444444" stroke-width="0.9" stroke-linecap="butt"/>
<line x1="516.3" y1="376.35" x2="516.3" y2="379.35" stroke="#444444" stroke-width="0.9" stroke-linecap="butt"/>
<line x1="562.3" y1="376.35" x2="562.3" y2="379.35" stroke="#444444" stroke-width="0.9" stroke-linecap="butt"/>
<line x1="608.3" y1="376.35" x2="608.3" y2="379.35" stroke="#444444" stroke-width="0.9" stroke-linecap="butt"/>
<line x1="654.3" y1="376.35" x2="654.3" y2="379.35" stroke="#444444" stroke-width="0.9" stroke-linecap="butt"/>
<line x1="493.3" y1="376.35" x2="493.3" y2="378.35" stroke="#444444" stroke-width="0.9" stroke-linecap="butt"/>
<line x1="539.3" y1="376.35" x2="539.3" y2="378.35" stroke="#444444" stroke-width="0.9" stroke-linecap="butt"/>
<line x1="585.3" y1="376.35" x2="585.3" y2="378.35" stroke="#444444" stroke-width="0.9" stroke-linecap="butt"/>
<line x1="631.3" y1="376.35" x2="631.3" y2="378.35" stroke="#444444" stroke-width="0.9" stroke-linecap="butt"/>
<line x1="677.3" y1="376.35" x2="677.3" y2="378.35" stroke="#444444" stroke-width="0.9" stroke-linecap="butt"/>
<text x="470.3" y="390.95" font-size="10.5" text-anchor="middle" font-weight="normal" fill="#000">0</text>
<text x="516.3" y="390.95" font-size="10.5" text-anchor="middle" font-weight="normal" fill="#000">10</text>
<text x="562.3" y="390.95" font-size="10.5" text-anchor="middle" font-weight="normal" fill="#000">20</text>
<text x="608.3" y="390.95" font-size="10.5" text-anchor="middle" font-weight="normal" fill="#000">30</text>
<text x="654.3" y="390.95" font-size="10.5" text-anchor="middle" font-weight="normal" fill="#000">40</text>
<text x="43.5" y="351.86" font-size="10.5" text-anchor="end" font-weight="normal" fill="#000">0.6</text>
<text x="43.5" y="307.84" font-size="10.5" text-anchor="end" font-weight="normal" fill="#000">0.8</text>
<text x="43.5" y="273.7" font-size="10.5" text-anchor="end" font-weight="normal" fill="#000">1</text>
<text x="43.5" y="245.8" font-size="10.5" text-anchor="end" font-weight="normal" fill="#000">1.2</text>
<text x="43.5" y="222.22" font-size="10.5" text-anchor="end" font-weight="normal" fill="#000">1.4</text>
<text x="154.6" y="407.75" font-size="19" text-anchor="middle" font-weight="bold" fill="#000">Time (s)</text>
<text x="363.6" y="407.75" font-size="19" text-anchor="middle" font-weight="bold" fill="#000">Time (s)</text>
<text x="573" y="407.75" font-size="19" text-anchor="middle" font-weight="bold" fill="#000">Time (s)</text>
<line x1="57.29" y1="272.18" x2="80.41" y2="280.02" stroke="#008000" stroke-width="1.2" stroke-linecap="butt" stroke-dasharray="1.3 3.6"/>
<line x1="88.2" y1="281.14" x2="110.9" y2="280.26" stroke="#008000" stroke-width="1.2" stroke-linecap="butt" stroke-dasharray="1.3 3.6"/>
<line x1="118.9" y1="280.13" x2="141.6" y2="280.27" stroke="#008000" stroke-width="1.2" stroke-linecap="butt" stroke-dasharray="1.3 3.6"/>
<line x1="149.59" y1="280.03" x2="172.31" y2="278.47" stroke="#008000" stroke-width="1.2" stroke-linecap="butt" stroke-dasharray="1.3 3.6"/>
<line x1="180.27" y1="277.72" x2="203.03" y2="274.98" stroke="#008000" stroke-width="1.2" stroke-linecap="butt" stroke-dasharray="1.3 3.6"/>
<line x1="211" y1="274.37" x2="233.7" y2="273.63" stroke="#008000" stroke-width="1.2" stroke-linecap="butt" stroke-dasharray="1.3 3.6"/>
<line x1="59.09" y1="271.54" x2="86.31" y2="282.86" stroke="#ff8000" stroke-width="1.2" stroke-linecap="butt" stroke-dasharray="1.3 3.6"/>
<line x1="93.96" y1="283.84" x2="120.64" y2="280.06" stroke="#ff8000" stroke-width="1.2" stroke-linecap="butt" stroke-dasharray="1.3 3.6"/>
<line x1="128.55" y1="278.89" x2="155.25" y2="274.81" stroke="#ff8000" stroke-width="1.2" stroke-linecap="butt" stroke-dasharray="1.3 3.6"/>
<line x1="163.2" y1="274.06" x2="189.8" y2="273.14" stroke="#ff8000" stroke-width="1.2" stroke-linecap="butt" stroke-dasharray="1.3 3.6"/>
<line x1="197.7" y1="272.11" x2="224.5" y2="265.99" stroke="#ff8000" stroke-width="1.2" stroke-linecap="butt" stroke-dasharray="1.3 3.6"/>
<line x1="56.75" y1="269.57" x2="78.1" y2="275.53" stroke="#00ffff" stroke-width="1.2" stroke-linecap="butt" stroke-dasharray="1.3 3.6"/>
<line x1="85.95" y1="276.66" x2="107" y2="276.94" stroke="#00ffff" stroke-width="1.2" stroke-linecap="butt" stroke-dasharray="1.3 3.6"/>
<line x1="114.98" y1="276.62" x2="136.07" y2="274.58" stroke="#00ffff" stroke-width="1.2" stroke-linecap="butt" stroke-dasharray="1.3 3.6"/>
<line x1="144.05" y1="274.21" x2="165.1" y2="274.29" stroke="#00ffff" stroke-width="1.2" stroke-linecap="butt" stroke-dasharray="1.3 3.6"/>
<line x1="173.09" y1="274.09" x2="194.16" y2="273.01" stroke="#00ffff" stroke-width="1.2" stroke-linecap="butt" stroke-dasharray="1.3 3.6"/>
<line x1="202.13" y1="272.4" x2="223.22" y2="270.3" stroke="#00ffff" stroke-width="1.2" stroke-linecap="butt" stroke-dasharray="1.3 3.6"/>
<line x1="62.85" y1="271" x2="96.75" y2="283.7" stroke="#ff0000" stroke-width="1.2" stroke-linecap="butt" stroke-dasharray="1.3 3.6"/>
<line x1="104.5" y1="285.07" x2="137.9" y2="284.83" stroke="#ff0000" stroke-width="1.2" stroke-linecap="butt" stroke-dasharray="1.3 3.6"/>
<line x1="145.82" y1="284.02" x2="179.38" y2="277.38" stroke="#ff0000" stroke-width="1.2" stroke-linecap="butt" stroke-dasharray="1.3 3.6"/>
<line x1="187.22" y1="275.82" x2="220.78" y2="269.18" stroke="#ff0000" stroke-width="1.2" stroke-linecap="butt" stroke-dasharray="1.3 3.6"/>
<path d="M53.5 265.9V267.75M53.5 274.05V275.9M51.6 265.9H55.4M51.6 275.9H55.4" stroke="#008000" stroke-width="0.85" stroke-opacity="0.9" fill="none"/>
<polygon points="53.5,268.09 56.62,273.71 50.38,273.71" fill="none" stroke="#008000" stroke-width="1.1" stroke-linejoin="miter"/>
<path d="M84.2 276.3V278.15M84.2 284.45V286.3M82.3 276.3H86.1M82.3 286.3H86.1" stroke="#008000" stroke-width="0.85" stroke-opacity="0.9" fill="none"/>
<polygon points="84.2,278.49 87.33,284.11 81.08,284.11" fill="none" stroke="#008000" stroke-width="1.1" stroke-linejoin="miter"/>
<path d="M114.9 275.1V276.95M114.9 283.25V285.1M113 275.1H116.8M113 285.1H116.8" stroke="#008000" stroke-width="0.85" stroke-opacity="0.9" fill="none"/>
<polygon points="114.9,277.29 118.03,282.91 111.78,282.91" fill="none" stroke="#008000" stroke-width="1.1" stroke-linejoin="miter"/>
<path d="M145.6 275.8V277.15M145.6 283.45V284.8M143.7 275.8H147.5M143.7 284.8H147.5" stroke="#008000" stroke-width="0.85" stroke-opacity="0.9" fill="none"/>
<polygon points="145.6,277.49 148.72,283.11 142.47,283.11" fill="none" stroke="#008000" stroke-width="1.1" stroke-linejoin="miter"/>
<path d="M176.3 273.2V275.05M176.3 281.35V283.2M174.4 273.2H178.2M174.4 283.2H178.2" stroke="#008000" stroke-width="0.85" stroke-opacity="0.9" fill="none"/>
<polygon points="176.3,275.39 179.43,281.01 173.18,281.01" fill="none" stroke="#008000" stroke-width="1.1" stroke-linejoin="miter"/>
<path d="M207 270V271.35M207 277.65V279M205.1 270H208.9M205.1 279H208.9" stroke="#008000" stroke-width="0.85" stroke-opacity="0.9" fill="none"/>
<polygon points="207,271.69 210.12,277.31 203.88,277.31" fill="none" stroke="#008000" stroke-width="1.1" stroke-linejoin="miter"/>
<path d="M237.7 269.1V270.35M237.7 276.65V277.9M235.8 269.1H239.6M235.8 277.9H239.6" stroke="#008000" stroke-width="0.85" stroke-opacity="0.9" fill="none"/>
<polygon points="237.7,270.69 240.82,276.31 234.57,276.31" fill="none" stroke="#008000" stroke-width="1.1" stroke-linejoin="miter"/>
<path d="M55.4 265V266.85M55.4 273.15V275M53.5 265H57.3M53.5 275H57.3" stroke="#ff8000" stroke-width="0.85" stroke-opacity="0.9" fill="none"/>
<circle cx="55.4" cy="270" r="2.95" fill="none" stroke="#ff8000" stroke-width="1.1"/>
<path d="M90 278.4V281.25M90 287.55V290.4M88.1 278.4H91.9M88.1 290.4H91.9" stroke="#ff8000" stroke-width="0.85" stroke-opacity="0.9" fill="none"/>
<circle cx="90" cy="284.4" r="2.95" fill="none" stroke="#ff8000" stroke-width="1.1"/>
<path d="M124.6 274.2V276.35M124.6 282.65V284.8M122.7 274.2H126.5M122.7 284.8H126.5" stroke="#ff8000" stroke-width="0.85" stroke-opacity="0.9" fill="none"/>
<circle cx="124.6" cy="279.5" r="2.95" fill="none" stroke="#ff8000" stroke-width="1.1"/>
<path d="M159.2 268.4V271.05M159.2 277.35V280M157.3 268.4H161.1M157.3 280H161.1" stroke="#ff8000" stroke-width="0.85" stroke-opacity="0.9" fill="none"/>
<circle cx="159.2" cy="274.2" r="2.95" fill="none" stroke="#ff8000" stroke-width="1.1"/>
<path d="M193.8 267V269.85M193.8 276.15V279M191.9 267H195.7M191.9 279H195.7" stroke="#ff8000" stroke-width="0.85" stroke-opacity="0.9" fill="none"/>
<circle cx="193.8" cy="273" r="2.95" fill="none" stroke="#ff8000" stroke-width="1.1"/>
<path d="M228.4 260.5V261.95M228.4 268.25V269.7M226.5 260.5H230.3M226.5 269.7H230.3" stroke="#ff8000" stroke-width="0.85" stroke-opacity="0.9" fill="none"/>
<circle cx="228.4" cy="265.1" r="2.95" fill="none" stroke="#ff8000" stroke-width="1.1"/>
<path d="M52.9 264.5V265.35M52.9 271.65V272.5M51 264.5H54.8M51 272.5H54.8" stroke="#00ffff" stroke-width="0.85" stroke-opacity="0.9" fill="none"/>
<polygon points="49.77,265.69 56.02,265.69 52.9,271.31" fill="none" stroke="#00ffff" stroke-width="1.1" stroke-linejoin="miter"/>
<path d="M81.95 272.8V273.45M81.95 279.75V280.4M80.05 272.8H83.85M80.05 280.4H83.85" stroke="#00ffff" stroke-width="0.85" stroke-opacity="0.9" fill="none"/>
<polygon points="78.83,273.79 85.08,273.79 81.95,279.41" fill="none" stroke="#00ffff" stroke-width="1.1" stroke-linejoin="miter"/>
<path d="M111 272.5V273.85M111 280.15V281.5M109.1 272.5H112.9M109.1 281.5H112.9" stroke="#00ffff" stroke-width="0.85" stroke-opacity="0.9" fill="none"/>
<polygon points="107.88,274.19 114.12,274.19 111,279.81" fill="none" stroke="#00ffff" stroke-width="1.1" stroke-linejoin="miter"/>
<path d="M140.05 270.2V271.05M140.05 277.35V278.2M138.15 270.2H141.95M138.15 278.2H141.95" stroke="#00ffff" stroke-width="0.85" stroke-opacity="0.9" fill="none"/>
<polygon points="136.93,271.39 143.18,271.39 140.05,277.01" fill="none" stroke="#00ffff" stroke-width="1.1" stroke-linejoin="miter"/>
<path d="M169.1 270.3V271.15M169.1 277.45V278.3M167.2 270.3H171M167.2 278.3H171" stroke="#00ffff" stroke-width="0.85" stroke-opacity="0.9" fill="none"/>
<polygon points="165.97,271.49 172.22,271.49 169.1,277.11" fill="none" stroke="#00ffff" stroke-width="1.1" stroke-linejoin="miter"/>
<path d="M198.15 268.1V269.65M198.15 275.95V277.5M196.25 268.1H200.05M196.25 277.5H200.05" stroke="#00ffff" stroke-width="0.85" stroke-opacity="0.9" fill="none"/>
<polygon points="195.03,269.99 201.28,269.99 198.15,275.61" fill="none" stroke="#00ffff" stroke-width="1.1" stroke-linejoin="miter"/>
<path d="M227.2 265.3V266.75M227.2 273.05V274.5M225.3 265.3H229.1M225.3 274.5H229.1" stroke="#00ffff" stroke-width="0.85" stroke-opacity="0.9" fill="none"/>
<polygon points="224.08,267.09 230.33,267.09 227.2,272.71" fill="none" stroke="#00ffff" stroke-width="1.1" stroke-linejoin="miter"/>
<path d="M59.1 262.8V266.45M59.1 272.75V276.4M57.2 262.8H61M57.2 276.4H61" stroke="#ff0000" stroke-width="0.85" stroke-opacity="0.9" fill="none"/>
<rect x="56.57" y="267.07" width="5.06" height="5.06" fill="none" stroke="#ff0000" stroke-width="1.1"/>
<path d="M100.5 279.1V281.95M100.5 288.25V291.1M98.6 279.1H102.4M98.6 291.1H102.4" stroke="#ff0000" stroke-width="0.85" stroke-opacity="0.9" fill="none"/>
<rect x="97.97" y="282.57" width="5.06" height="5.06" fill="none" stroke="#ff0000" stroke-width="1.1"/>
<path d="M141.9 277.5V281.65M141.9 287.95V292.1M140 277.5H143.8M140 292.1H143.8" stroke="#ff0000" stroke-width="0.85" stroke-opacity="0.9" fill="none"/>
<rect x="139.37" y="282.27" width="5.06" height="5.06" fill="none" stroke="#ff0000" stroke-width="1.1"/>
<path d="M183.3 269.9V273.45M183.3 279.75V283.3M181.4 269.9H185.2M181.4 283.3H185.2" stroke="#ff0000" stroke-width="0.85" stroke-opacity="0.9" fill="none"/>
<rect x="180.77" y="274.07" width="5.06" height="5.06" fill="none" stroke="#ff0000" stroke-width="1.1"/>
<path d="M224.7 261.4V265.25M224.7 271.55V275.4M222.8 261.4H226.6M222.8 275.4H226.6" stroke="#ff0000" stroke-width="0.85" stroke-opacity="0.9" fill="none"/>
<rect x="222.17" y="265.87" width="5.06" height="5.06" fill="none" stroke="#ff0000" stroke-width="1.1"/>
<line x1="264.6" y1="273.17" x2="290.1" y2="309.23" stroke="#008000" stroke-width="1.1" stroke-linecap="butt"/>
<line x1="296.96" y1="314.34" x2="319.14" y2="321.86" stroke="#008000" stroke-width="1.1" stroke-linecap="butt"/>
<line x1="327.73" y1="324.54" x2="349.77" y2="330.86" stroke="#008000" stroke-width="1.1" stroke-linecap="butt"/>
<line x1="358.51" y1="331.21" x2="380.39" y2="326.79" stroke="#008000" stroke-width="1.1" stroke-linecap="butt"/>
<line x1="389.21" y1="324.98" x2="411.09" y2="320.42" stroke="#008000" stroke-width="1.1" stroke-linecap="butt"/>
<line x1="419.93" y1="318.73" x2="441.77" y2="314.97" stroke="#008000" stroke-width="1.1" stroke-linecap="butt"/>
<line x1="267.29" y1="272.86" x2="295.11" y2="297.24" stroke="#ff8000" stroke-width="1.1" stroke-linecap="butt"/>
<line x1="303" y1="300.41" x2="328.6" y2="301.59" stroke="#ff8000" stroke-width="1.1" stroke-linecap="butt"/>
<line x1="337.6" y1="301.89" x2="363.2" y2="302.41" stroke="#ff8000" stroke-width="1.1" stroke-linecap="butt"/>
<line x1="372.09" y1="301.51" x2="397.91" y2="295.69" stroke="#ff8000" stroke-width="1.1" stroke-linecap="butt"/>
<line x1="406.7" y1="293.75" x2="432.5" y2="288.15" stroke="#ff8000" stroke-width="1.1" stroke-linecap="butt"/>
<line x1="264.15" y1="273.46" x2="287.7" y2="303.94" stroke="#00ffff" stroke-width="1.1" stroke-linecap="butt"/>
<line x1="294.19" y1="310.01" x2="315.76" y2="324.49" stroke="#00ffff" stroke-width="1.1" stroke-linecap="butt"/>
<line x1="324" y1="326.94" x2="344.05" y2="326.66" stroke="#00ffff" stroke-width="1.1" stroke-linecap="butt"/>
<line x1="352.84" y1="325.24" x2="373.31" y2="318.76" stroke="#00ffff" stroke-width="1.1" stroke-linecap="butt"/>
<line x1="382.05" y1="318.04" x2="402.2" y2="320.96" stroke="#00ffff" stroke-width="1.1" stroke-linecap="butt"/>
<line x1="411.07" y1="320.73" x2="431.28" y2="316.77" stroke="#00ffff" stroke-width="1.1" stroke-linecap="butt"/>
<line x1="271.51" y1="272.12" x2="305.09" y2="291.18" stroke="#ff0000" stroke-width="1.1" stroke-linecap="butt"/>
<line x1="313.41" y1="292.51" x2="345.99" y2="285.89" stroke="#ff0000" stroke-width="1.1" stroke-linecap="butt"/>
<line x1="354.81" y1="284.11" x2="387.39" y2="277.49" stroke="#ff0000" stroke-width="1.1" stroke-linecap="butt"/>
<line x1="396.3" y1="276.58" x2="428.7" y2="276.42" stroke="#ff0000" stroke-width="1.1" stroke-linecap="butt"/>
<path d="M262 261.5V277.5M260.1 261.5H263.9M260.1 277.5H263.9" stroke="#008000" stroke-width="0.85" stroke-opacity="0.9" fill="none"/>
<polygon points="262,266.59 265.23,272.41 258.77,272.41" fill="#008000" stroke="#008000" stroke-width="1.1" stroke-linejoin="miter"/>
<path d="M292.7 298.9V326.9M290.8 298.9H294.6M290.8 326.9H294.6" stroke="#008000" stroke-width="0.85" stroke-opacity="0.9" fill="none"/>
<polygon points="292.7,309.99 295.93,315.81 289.47,315.81" fill="#008000" stroke="#008000" stroke-width="1.1" stroke-linejoin="miter"/>
<path d="M323.4 311.3V335.3M321.5 311.3H325.3M321.5 335.3H325.3" stroke="#008000" stroke-width="0.85" stroke-opacity="0.9" fill="none"/>
<polygon points="323.4,320.39 326.63,326.21 320.17,326.21" fill="#008000" stroke="#008000" stroke-width="1.1" stroke-linejoin="miter"/>
<path d="M354.1 322.1V342.1M352.2 322.1H356M352.2 342.1H356" stroke="#008000" stroke-width="0.85" stroke-opacity="0.9" fill="none"/>
<polygon points="354.1,329.19 357.33,335.01 350.87,335.01" fill="#008000" stroke="#008000" stroke-width="1.1" stroke-linejoin="miter"/>
<path d="M384.8 320.9V330.9M382.9 320.9H386.7M382.9 330.9H386.7" stroke="#008000" stroke-width="0.85" stroke-opacity="0.9" fill="none"/>
<polygon points="384.8,322.99 388.03,328.81 381.57,328.81" fill="#008000" stroke="#008000" stroke-width="1.1" stroke-linejoin="miter"/>
<path d="M415.5 306V333M413.6 306H417.4M413.6 333H417.4" stroke="#008000" stroke-width="0.85" stroke-opacity="0.9" fill="none"/>
<polygon points="415.5,316.59 418.73,322.41 412.27,322.41" fill="#008000" stroke="#008000" stroke-width="1.1" stroke-linejoin="miter"/>
<path d="M446.2 302.5V325.9M444.3 302.5H448.1M444.3 325.9H448.1" stroke="#008000" stroke-width="0.85" stroke-opacity="0.9" fill="none"/>
<polygon points="446.2,311.29 449.43,317.11 442.97,317.11" fill="#008000" stroke="#008000" stroke-width="1.1" stroke-linejoin="miter"/>
<path d="M263.9 253.3V286.5M262 253.3H265.8M262 286.5H265.8" stroke="#ff8000" stroke-width="0.85" stroke-opacity="0.9" fill="none"/>
<circle cx="263.9" cy="269.9" r="3.05" fill="#ff8000" stroke="#ff8000" stroke-width="1.1"/>
<path d="M298.5 284.2V316.2M296.6 284.2H300.4M296.6 316.2H300.4" stroke="#ff8000" stroke-width="0.85" stroke-opacity="0.9" fill="none"/>
<circle cx="298.5" cy="300.2" r="3.05" fill="#ff8000" stroke="#ff8000" stroke-width="1.1"/>
<path d="M333.1 282.8V320.8M331.2 282.8H335M331.2 320.8H335" stroke="#ff8000" stroke-width="0.85" stroke-opacity="0.9" fill="none"/>
<circle cx="333.1" cy="301.8" r="3.05" fill="#ff8000" stroke="#ff8000" stroke-width="1.1"/>
<path d="M367.7 284.8V320.2M365.8 284.8H369.6M365.8 320.2H369.6" stroke="#ff8000" stroke-width="0.85" stroke-opacity="0.9" fill="none"/>
<circle cx="367.7" cy="302.5" r="3.05" fill="#ff8000" stroke="#ff8000" stroke-width="1.1"/>
<path d="M402.3 276.1V313.3M400.4 276.1H404.2M400.4 313.3H404.2" stroke="#ff8000" stroke-width="0.85" stroke-opacity="0.9" fill="none"/>
<circle cx="402.3" cy="294.7" r="3.05" fill="#ff8000" stroke="#ff8000" stroke-width="1.1"/>
<path d="M436.9 268.2V306.2M435 268.2H438.8M435 306.2H438.8" stroke="#ff8000" stroke-width="0.85" stroke-opacity="0.9" fill="none"/>
<circle cx="436.9" cy="287.2" r="3.05" fill="#ff8000" stroke="#ff8000" stroke-width="1.1"/>
<polygon points="258.17,266.99 264.63,266.99 261.4,272.81" fill="#00ffff" stroke="#00ffff" stroke-width="1.1" stroke-linejoin="miter"/>
<path d="M290.45 300.5V314.5M288.55 300.5H292.35M288.55 314.5H292.35" stroke="#00ffff" stroke-width="0.85" stroke-opacity="0.9" fill="none"/>
<polygon points="287.22,304.59 293.68,304.59 290.45,310.41" fill="#00ffff" stroke="#00ffff" stroke-width="1.1" stroke-linejoin="miter"/>
<path d="M319.5 321.6V332.4M317.6 321.6H321.4M317.6 332.4H321.4" stroke="#00ffff" stroke-width="0.85" stroke-opacity="0.9" fill="none"/>
<polygon points="316.27,324.09 322.73,324.09 319.5,329.91" fill="#00ffff" stroke="#00ffff" stroke-width="1.1" stroke-linejoin="miter"/>
<path d="M348.55 321.6V331.6M346.65 321.6H350.45M346.65 331.6H350.45" stroke="#00ffff" stroke-width="0.85" stroke-opacity="0.9" fill="none"/>
<polygon points="345.32,323.69 351.78,323.69 348.55,329.51" fill="#00ffff" stroke="#00ffff" stroke-width="1.1" stroke-linejoin="miter"/>
<path d="M377.6 312.4V322.4M375.7 312.4H379.5M375.7 322.4H379.5" stroke="#00ffff" stroke-width="0.85" stroke-opacity="0.9" fill="none"/>
<polygon points="374.37,314.49 380.83,314.49 377.6,320.31" fill="#00ffff" stroke="#00ffff" stroke-width="1.1" stroke-linejoin="miter"/>
<path d="M406.65 318.6V324.6M404.75 318.6H408.55M404.75 324.6H408.55" stroke="#00ffff" stroke-width="0.85" stroke-opacity="0.9" fill="none"/>
<polygon points="403.42,318.69 409.88,318.69 406.65,324.51" fill="#00ffff" stroke="#00ffff" stroke-width="1.1" stroke-linejoin="miter"/>
<path d="M435.7 312.9V318.9M433.8 312.9H437.6M433.8 318.9H437.6" stroke="#00ffff" stroke-width="0.85" stroke-opacity="0.9" fill="none"/>
<polygon points="432.47,312.99 438.93,312.99 435.7,318.81" fill="#00ffff" stroke="#00ffff" stroke-width="1.1" stroke-linejoin="miter"/>
<path d="M267.6 257.7V282.1M265.7 257.7H269.5M265.7 282.1H269.5" stroke="#ff0000" stroke-width="0.85" stroke-opacity="0.9" fill="none"/>
<rect x="264.98" y="267.28" width="5.24" height="5.24" fill="#ff0000" stroke="#ff0000" stroke-width="1.1"/>
<path d="M309 279.4V307.4M307.1 279.4H310.9M307.1 307.4H310.9" stroke="#ff0000" stroke-width="0.85" stroke-opacity="0.9" fill="none"/>
<rect x="306.38" y="290.78" width="5.24" height="5.24" fill="#ff0000" stroke="#ff0000" stroke-width="1.1"/>
<path d="M350.4 271V299M348.5 271H352.3M348.5 299H352.3" stroke="#ff0000" stroke-width="0.85" stroke-opacity="0.9" fill="none"/>
<rect x="347.78" y="282.38" width="5.24" height="5.24" fill="#ff0000" stroke="#ff0000" stroke-width="1.1"/>
<path d="M391.8 261V292.2M389.9 261H393.7M389.9 292.2H393.7" stroke="#ff0000" stroke-width="0.85" stroke-opacity="0.9" fill="none"/>
<rect x="389.18" y="273.98" width="5.24" height="5.24" fill="#ff0000" stroke="#ff0000" stroke-width="1.1"/>
<path d="M433.2 263V289.8M431.3 263H435.1M431.3 289.8H435.1" stroke="#ff0000" stroke-width="0.85" stroke-opacity="0.9" fill="none"/>
<rect x="430.58" y="273.78" width="5.24" height="5.24" fill="#ff0000" stroke="#ff0000" stroke-width="1.1"/>
<line x1="475.94" y1="272.29" x2="498.56" y2="283.41" stroke="#008000" stroke-width="1.05" stroke-linecap="butt" stroke-dasharray="4.5 3.8"/>
<line x1="506.75" y1="283.66" x2="529.15" y2="274.24" stroke="#008000" stroke-width="1.05" stroke-linecap="butt" stroke-dasharray="4.5 3.8"/>
<line x1="537.7" y1="273.43" x2="559.6" y2="278.07" stroke="#008000" stroke-width="1.05" stroke-linecap="butt" stroke-dasharray="4.5 3.8"/>
<line x1="568.29" y1="277.63" x2="590.41" y2="270.57" stroke="#008000" stroke-width="1.05" stroke-linecap="butt" stroke-dasharray="4.5 3.8"/>
<line x1="599.04" y1="268.01" x2="621.06" y2="261.99" stroke="#008000" stroke-width="1.05" stroke-linecap="butt" stroke-dasharray="4.5 3.8"/>
<line x1="629.88" y1="261.27" x2="651.62" y2="263.53" stroke="#008000" stroke-width="1.05" stroke-linecap="butt" stroke-dasharray="4.5 3.8"/>
<line x1="478.29" y1="269.99" x2="503.91" y2="271.61" stroke="#ff8000" stroke-width="1.05" stroke-linecap="butt" stroke-dasharray="4.5 3.8"/>
<line x1="512.87" y1="271.4" x2="538.53" y2="268.5" stroke="#ff8000" stroke-width="1.05" stroke-linecap="butt" stroke-dasharray="4.5 3.8"/>
<line x1="547.49" y1="267.69" x2="573.11" y2="265.91" stroke="#ff8000" stroke-width="1.05" stroke-linecap="butt" stroke-dasharray="4.5 3.8"/>
<line x1="582.05" y1="264.94" x2="607.75" y2="261.16" stroke="#ff8000" stroke-width="1.05" stroke-linecap="butt" stroke-dasharray="4.5 3.8"/>
<line x1="616.54" y1="259.31" x2="642.46" y2="252.19" stroke="#ff8000" stroke-width="1.05" stroke-linecap="butt" stroke-dasharray="4.5 3.8"/>
<line x1="475.49" y1="271.93" x2="496.16" y2="279.97" stroke="#00ffff" stroke-width="1.05" stroke-linecap="butt" stroke-dasharray="4.5 3.8"/>
<line x1="504.83" y1="281.14" x2="524.92" y2="279.06" stroke="#00ffff" stroke-width="1.05" stroke-linecap="butt" stroke-dasharray="4.5 3.8"/>
<line x1="533.89" y1="278.26" x2="553.96" y2="276.74" stroke="#00ffff" stroke-width="1.05" stroke-linecap="butt" stroke-dasharray="4.5 3.8"/>
<line x1="562.95" y1="276.49" x2="583" y2="276.91" stroke="#00ffff" stroke-width="1.05" stroke-linecap="butt" stroke-dasharray="4.5 3.8"/>
<line x1="591.94" y1="276.25" x2="612.11" y2="272.85" stroke="#00ffff" stroke-width="1.05" stroke-linecap="butt" stroke-dasharray="4.5 3.8"/>
<line x1="620.99" y1="271.4" x2="641.16" y2="268.2" stroke="#00ffff" stroke-width="1.05" stroke-linecap="butt" stroke-dasharray="4.5 3.8"/>
<line x1="481.83" y1="271.42" x2="514.57" y2="280.68" stroke="#ff0000" stroke-width="1.05" stroke-linecap="butt" stroke-dasharray="4.5 3.8"/>
<line x1="522.9" y1="279.84" x2="556.3" y2="262.66" stroke="#ff0000" stroke-width="1.05" stroke-linecap="butt" stroke-dasharray="4.5 3.8"/>
<line x1="564.77" y1="260.12" x2="597.23" y2="256.68" stroke="#ff0000" stroke-width="1.05" stroke-linecap="butt" stroke-dasharray="4.5 3.8"/>
<line x1="606.17" y1="255.72" x2="638.63" y2="252.28" stroke="#ff0000" stroke-width="1.05" stroke-linecap="butt" stroke-dasharray="4.5 3.8"/>
<path d="M471.9 261V279.6M470 261H473.8M470 279.6H473.8" stroke="#008000" stroke-width="0.85" stroke-opacity="0.9" fill="none"/>
<rect x="469.37" y="267.77" width="5.06" height="5.06" fill="white" stroke="#008000" stroke-width="1.1"/>
<rect x="469.37" y="269.54" width="5.06" height="3.29" fill="#008000"/>
<path d="M502.6 273.4V297.4M500.7 273.4H504.5M500.7 297.4H504.5" stroke="#008000" stroke-width="0.85" stroke-opacity="0.9" fill="none"/>
<rect x="500.07" y="282.87" width="5.06" height="5.06" fill="white" stroke="#008000" stroke-width="1.1"/>
<rect x="500.07" y="284.64" width="5.06" height="3.29" fill="#008000"/>
<path d="M533.3 260.9V284.1M531.4 260.9H535.2M531.4 284.1H535.2" stroke="#008000" stroke-width="0.85" stroke-opacity="0.9" fill="none"/>
<rect x="530.77" y="269.97" width="5.06" height="5.06" fill="white" stroke="#008000" stroke-width="1.1"/>
<rect x="530.77" y="271.74" width="5.06" height="3.29" fill="#008000"/>
<path d="M564 268V290M562.1 268H565.9M562.1 290H565.9" stroke="#008000" stroke-width="0.85" stroke-opacity="0.9" fill="none"/>
<rect x="561.47" y="276.47" width="5.06" height="5.06" fill="white" stroke="#008000" stroke-width="1.1"/>
<rect x="561.47" y="278.24" width="5.06" height="3.29" fill="#008000"/>
<path d="M594.7 257.3V281.1M592.8 257.3H596.6M592.8 281.1H596.6" stroke="#008000" stroke-width="0.85" stroke-opacity="0.9" fill="none"/>
<rect x="592.17" y="266.67" width="5.06" height="5.06" fill="white" stroke="#008000" stroke-width="1.1"/>
<rect x="592.17" y="268.44" width="5.06" height="3.29" fill="#008000"/>
<path d="M625.4 251.6V270M623.5 251.6H627.3M623.5 270H627.3" stroke="#008000" stroke-width="0.85" stroke-opacity="0.9" fill="none"/>
<rect x="622.87" y="258.27" width="5.06" height="5.06" fill="white" stroke="#008000" stroke-width="1.1"/>
<rect x="622.87" y="260.04" width="5.06" height="3.29" fill="#008000"/>
<path d="M656.1 254.2V273.8M654.2 254.2H658M654.2 273.8H658" stroke="#008000" stroke-width="0.85" stroke-opacity="0.9" fill="none"/>
<rect x="653.57" y="261.47" width="5.06" height="5.06" fill="white" stroke="#008000" stroke-width="1.1"/>
<rect x="653.57" y="263.24" width="5.06" height="3.29" fill="#008000"/>
<path d="M473.8 258.7V280.7M471.9 258.7H475.7M471.9 280.7H475.7" stroke="#ff8000" stroke-width="0.85" stroke-opacity="0.9" fill="none"/>
<rect x="471.27" y="267.17" width="5.06" height="5.06" fill="white" stroke="#ff8000" stroke-width="1.1"/>
<rect x="471.27" y="268.94" width="5.06" height="3.29" fill="#ff8000"/>
<path d="M508.4 262.7V281.1M506.5 262.7H510.3M506.5 281.1H510.3" stroke="#ff8000" stroke-width="0.85" stroke-opacity="0.9" fill="none"/>
<rect x="505.87" y="269.37" width="5.06" height="5.06" fill="white" stroke="#ff8000" stroke-width="1.1"/>
<rect x="505.87" y="271.14" width="5.06" height="3.29" fill="#ff8000"/>
<path d="M543 257.1V278.9M541.1 257.1H544.9M541.1 278.9H544.9" stroke="#ff8000" stroke-width="0.85" stroke-opacity="0.9" fill="none"/>
<rect x="540.47" y="265.47" width="5.06" height="5.06" fill="white" stroke="#ff8000" stroke-width="1.1"/>
<rect x="540.47" y="267.24" width="5.06" height="3.29" fill="#ff8000"/>
<path d="M577.6 256.2V275M575.7 256.2H579.5M575.7 275H579.5" stroke="#ff8000" stroke-width="0.85" stroke-opacity="0.9" fill="none"/>
<rect x="575.07" y="263.07" width="5.06" height="5.06" fill="white" stroke="#ff8000" stroke-width="1.1"/>
<rect x="575.07" y="264.84" width="5.06" height="3.29" fill="#ff8000"/>
<path d="M612.2 252.1V268.9M610.3 252.1H614.1M610.3 268.9H614.1" stroke="#ff8000" stroke-width="0.85" stroke-opacity="0.9" fill="none"/>
<rect x="609.67" y="257.97" width="5.06" height="5.06" fill="white" stroke="#ff8000" stroke-width="1.1"/>
<rect x="609.67" y="259.74" width="5.06" height="3.29" fill="#ff8000"/>
<path d="M646.8 242V260M644.9 242H648.7M644.9 260H648.7" stroke="#ff8000" stroke-width="0.85" stroke-opacity="0.9" fill="none"/>
<rect x="644.27" y="248.47" width="5.06" height="5.06" fill="white" stroke="#ff8000" stroke-width="1.1"/>
<rect x="644.27" y="250.24" width="5.06" height="3.29" fill="#ff8000"/>
<path d="M471.3 263.3V277.3M469.4 263.3H473.2M469.4 277.3H473.2" stroke="#00ffff" stroke-width="0.85" stroke-opacity="0.9" fill="none"/>
<rect x="468.77" y="267.77" width="5.06" height="5.06" fill="white" stroke="#00ffff" stroke-width="1.1"/>
<rect x="468.77" y="269.54" width="5.06" height="3.29" fill="#00ffff"/>
<path d="M500.35 274.2V289M498.45 274.2H502.25M498.45 289H502.25" stroke="#00ffff" stroke-width="0.85" stroke-opacity="0.9" fill="none"/>
<rect x="497.82" y="279.07" width="5.06" height="5.06" fill="white" stroke="#00ffff" stroke-width="1.1"/>
<rect x="497.82" y="280.84" width="5.06" height="3.29" fill="#00ffff"/>
<path d="M529.4 269.1V288.1M527.5 269.1H531.3M527.5 288.1H531.3" stroke="#00ffff" stroke-width="0.85" stroke-opacity="0.9" fill="none"/>
<rect x="526.87" y="276.07" width="5.06" height="5.06" fill="white" stroke="#00ffff" stroke-width="1.1"/>
<rect x="526.87" y="277.84" width="5.06" height="3.29" fill="#00ffff"/>
<path d="M558.45 270V282.8M556.55 270H560.35M556.55 282.8H560.35" stroke="#00ffff" stroke-width="0.85" stroke-opacity="0.9" fill="none"/>
<rect x="555.92" y="273.87" width="5.06" height="5.06" fill="white" stroke="#00ffff" stroke-width="1.1"/>
<rect x="555.92" y="275.64" width="5.06" height="3.29" fill="#00ffff"/>
<path d="M587.5 265.3V288.7M585.6 265.3H589.4M585.6 288.7H589.4" stroke="#00ffff" stroke-width="0.85" stroke-opacity="0.9" fill="none"/>
<rect x="584.97" y="274.47" width="5.06" height="5.06" fill="white" stroke="#00ffff" stroke-width="1.1"/>
<rect x="584.97" y="276.24" width="5.06" height="3.29" fill="#00ffff"/>
<path d="M616.55 263.4V280.8M614.65 263.4H618.45M614.65 280.8H618.45" stroke="#00ffff" stroke-width="0.85" stroke-opacity="0.9" fill="none"/>
<rect x="614.02" y="269.57" width="5.06" height="5.06" fill="white" stroke="#00ffff" stroke-width="1.1"/>
<rect x="614.02" y="271.34" width="5.06" height="3.29" fill="#00ffff"/>
<path d="M645.6 258.6V276.4M643.7 258.6H647.5M643.7 276.4H647.5" stroke="#00ffff" stroke-width="0.85" stroke-opacity="0.9" fill="none"/>
<rect x="643.07" y="264.97" width="5.06" height="5.06" fill="white" stroke="#00ffff" stroke-width="1.1"/>
<rect x="643.07" y="266.74" width="5.06" height="3.29" fill="#00ffff"/>
<path d="M477.5 260.2V280.2M475.6 260.2H479.4M475.6 280.2H479.4" stroke="#ff0000" stroke-width="0.85" stroke-opacity="0.9" fill="none"/>
<rect x="474.97" y="267.67" width="5.06" height="5.06" fill="white" stroke="#ff0000" stroke-width="1.1"/>
<rect x="474.97" y="269.44" width="5.06" height="3.29" fill="#ff0000"/>
<path d="M518.9 273.9V289.9M517 273.9H520.8M517 289.9H520.8" stroke="#ff0000" stroke-width="0.85" stroke-opacity="0.9" fill="none"/>
<rect x="516.37" y="279.37" width="5.06" height="5.06" fill="white" stroke="#ff0000" stroke-width="1.1"/>
<rect x="516.37" y="281.14" width="5.06" height="3.29" fill="#ff0000"/>
<path d="M560.3 251.2V270M558.4 251.2H562.2M558.4 270H562.2" stroke="#ff0000" stroke-width="0.85" stroke-opacity="0.9" fill="none"/>
<rect x="557.77" y="258.07" width="5.06" height="5.06" fill="white" stroke="#ff0000" stroke-width="1.1"/>
<rect x="557.77" y="259.84" width="5.06" height="3.29" fill="#ff0000"/>
<path d="M601.7 248.2V264.2M599.8 248.2H603.6M599.8 264.2H603.6" stroke="#ff0000" stroke-width="0.85" stroke-opacity="0.9" fill="none"/>
<rect x="599.17" y="253.67" width="5.06" height="5.06" fill="white" stroke="#ff0000" stroke-width="1.1"/>
<rect x="599.17" y="255.44" width="5.06" height="3.29" fill="#ff0000"/>
<path d="M643.1 244.3V259.3M641.2 244.3H645M641.2 259.3H645" stroke="#ff0000" stroke-width="0.85" stroke-opacity="0.9" fill="none"/>
<rect x="640.57" y="249.27" width="5.06" height="5.06" fill="white" stroke="#ff0000" stroke-width="1.1"/>
<rect x="640.57" y="251.04" width="5.06" height="3.29" fill="#ff0000"/>
<text x="253.4" y="371" font-size="14.6" text-anchor="end" font-weight="normal" fill="#000">0.5:0</text>
<text x="459.4" y="371" font-size="14.6" text-anchor="end" font-weight="normal" fill="#000">0.65:0</text>
<text x="673" y="371" font-size="14.6" text-anchor="end" font-weight="normal" fill="#000">0.5:6.4</text>
<line x1="162.5" y1="214.9" x2="188" y2="214.9" stroke="#ff0000" stroke-width="1.2" stroke-linecap="butt" stroke-dasharray="1.2 3.6"/>
<rect x="174.12" y="212.42" width="4.96" height="4.96" fill="white" stroke="#ff0000" stroke-width="1.2"/>
<text x="191.5" y="218.7" font-size="10.5" text-anchor="start" font-weight="normal" fill="#000">9.4</text>
<line x1="162.5" y1="228.4" x2="188" y2="228.4" stroke="#ff8000" stroke-width="1.2" stroke-linecap="butt" stroke-dasharray="1.2 3.6"/>
<circle cx="176.6" cy="228.4" r="2.9" fill="white" stroke="#ff8000" stroke-width="1.2"/>
<text x="193" y="232.2" font-size="10.5" text-anchor="start" font-weight="normal" fill="#000">19</text>
<line x1="209" y1="214.5" x2="236" y2="214.5" stroke="#008000" stroke-width="1.2" stroke-linecap="butt" stroke-dasharray="1.2 3.6"/>
<polygon points="222.9,211.55 226.19,217.45 219.62,217.45" fill="white" stroke="#008000" stroke-width="1.2" stroke-linejoin="miter"/>
<text x="238.2" y="218.9" font-size="10.5" text-anchor="start" font-weight="normal" fill="#000">42</text>
<line x1="209" y1="229.1" x2="236" y2="229.1" stroke="#00ffff" stroke-width="1.2" stroke-linecap="butt" stroke-dasharray="1.2 3.6"/>
<polygon points="219.62,226.15 226.19,226.15 222.9,232.05" fill="white" stroke="#00ffff" stroke-width="1.2" stroke-linejoin="miter"/>
<text x="238.2" y="232.4" font-size="10.5" text-anchor="start" font-weight="normal" fill="#000">90</text>
<text x="22.6" y="321.4" font-size="19" text-anchor="start" font-weight="bold" fill="#000" transform="rotate(-90 22.6 321.4)">F<tspan font-size="13.4" dy="4.6">M</tspan><tspan dy="-4.6">/F</tspan><tspan font-size="13.4" dy="4.6">M,i</tspan></text>
<text x="-0.8" y="217.5" font-size="24" text-anchor="start" font-weight="normal" fill="#333">(b)</text>
<line x1="48" y1="418.4" x2="230.1" y2="418.4" stroke="#505050" stroke-width="1.1" stroke-linecap="butt"/>
<line x1="48.5" y1="562.6" x2="230.1" y2="562.6" stroke="#505050" stroke-width="1.1" stroke-linecap="butt"/>
<line x1="48.5" y1="418.4" x2="48.5" y2="563.1" stroke="#505050" stroke-width="1.1" stroke-linecap="butt"/>
<line x1="229.6" y1="418.4" x2="229.6" y2="562.6" stroke="#505050" stroke-width="1.1" stroke-linecap="butt"/>
<line x1="64.4" y1="562.6" x2="64.4" y2="565.6" stroke="#444444" stroke-width="0.9" stroke-linecap="butt"/>
<line x1="229.8" y1="562.6" x2="229.8" y2="565.6" stroke="#444444" stroke-width="0.9" stroke-linecap="butt"/>
<line x1="56.83" y1="562.6" x2="56.83" y2="564.6" stroke="#444444" stroke-width="0.9" stroke-linecap="butt"/>
<line x1="114.19" y1="562.6" x2="114.19" y2="564.6" stroke="#444444" stroke-width="0.9" stroke-linecap="butt"/>
<line x1="143.32" y1="562.6" x2="143.32" y2="564.6" stroke="#444444" stroke-width="0.9" stroke-linecap="butt"/>
<line x1="163.98" y1="562.6" x2="163.98" y2="564.6" stroke="#444444" stroke-width="0.9" stroke-linecap="butt"/>
<line x1="180.01" y1="562.6" x2="180.01" y2="564.6" stroke="#444444" stroke-width="0.9" stroke-linecap="butt"/>
<line x1="193.11" y1="562.6" x2="193.11" y2="564.6" stroke="#444444" stroke-width="0.9" stroke-linecap="butt"/>
<line x1="204.18" y1="562.6" x2="204.18" y2="564.6" stroke="#444444" stroke-width="0.9" stroke-linecap="butt"/>
<line x1="213.77" y1="562.6" x2="213.77" y2="564.6" stroke="#444444" stroke-width="0.9" stroke-linecap="butt"/>
<line x1="222.23" y1="562.6" x2="222.23" y2="564.6" stroke="#444444" stroke-width="0.9" stroke-linecap="butt"/>
<text x="64.4" y="574.6" font-size="9.2" text-anchor="middle" font-weight="normal" fill="#000">10</text>
<text x="229.5" y="574.6" font-size="9.2" text-anchor="middle" font-weight="normal" fill="#000">100</text>
<line x1="45" y1="543.4" x2="48.5" y2="543.4" stroke="#444444" stroke-width="0.9" stroke-linecap="butt"/>
<line x1="45" y1="498.91" x2="48.5" y2="498.91" stroke="#444444" stroke-width="0.9" stroke-linecap="butt"/>
<line x1="45" y1="454.42" x2="48.5" y2="454.42" stroke="#444444" stroke-width="0.9" stroke-linecap="butt"/>
<line x1="45" y1="428.39" x2="48.5" y2="428.39" stroke="#444444" stroke-width="0.9" stroke-linecap="butt"/>
<line x1="46.5" y1="557.72" x2="48.5" y2="557.72" stroke="#444444" stroke-width="0.9" stroke-linecap="butt"/>
<line x1="46.5" y1="550.16" x2="48.5" y2="550.16" stroke="#444444" stroke-width="0.9" stroke-linecap="butt"/>
<line x1="46.5" y1="531.7" x2="48.5" y2="531.7" stroke="#444444" stroke-width="0.9" stroke-linecap="butt"/>
<line x1="46.5" y1="521.8" x2="48.5" y2="521.8" stroke="#444444" stroke-width="0.9" stroke-linecap="butt"/>
<line x1="46.5" y1="513.23" x2="48.5" y2="513.23" stroke="#444444" stroke-width="0.9" stroke-linecap="butt"/>
<line x1="46.5" y1="505.67" x2="48.5" y2="505.67" stroke="#444444" stroke-width="0.9" stroke-linecap="butt"/>
<line x1="46.5" y1="492.79" x2="48.5" y2="492.79" stroke="#444444" stroke-width="0.9" stroke-linecap="butt"/>
<line x1="46.5" y1="487.2" x2="48.5" y2="487.2" stroke="#444444" stroke-width="0.9" stroke-linecap="butt"/>
<line x1="46.5" y1="482.07" x2="48.5" y2="482.07" stroke="#444444" stroke-width="0.9" stroke-linecap="butt"/>
<line x1="46.5" y1="477.31" x2="48.5" y2="477.31" stroke="#444444" stroke-width="0.9" stroke-linecap="butt"/>
<line x1="46.5" y1="472.88" x2="48.5" y2="472.88" stroke="#444444" stroke-width="0.9" stroke-linecap="butt"/>
<line x1="46.5" y1="468.74" x2="48.5" y2="468.74" stroke="#444444" stroke-width="0.9" stroke-linecap="butt"/>
<line x1="46.5" y1="464.85" x2="48.5" y2="464.85" stroke="#444444" stroke-width="0.9" stroke-linecap="butt"/>
<line x1="46.5" y1="461.18" x2="48.5" y2="461.18" stroke="#444444" stroke-width="0.9" stroke-linecap="butt"/>
<line x1="46.5" y1="457.71" x2="48.5" y2="457.71" stroke="#444444" stroke-width="0.9" stroke-linecap="butt"/>
<line x1="46.5" y1="451.28" x2="48.5" y2="451.28" stroke="#444444" stroke-width="0.9" stroke-linecap="butt"/>
<line x1="46.5" y1="448.3" x2="48.5" y2="448.3" stroke="#444444" stroke-width="0.9" stroke-linecap="butt"/>
<line x1="46.5" y1="445.44" x2="48.5" y2="445.44" stroke="#444444" stroke-width="0.9" stroke-linecap="butt"/>
<line x1="46.5" y1="442.71" x2="48.5" y2="442.71" stroke="#444444" stroke-width="0.9" stroke-linecap="butt"/>
<line x1="46.5" y1="440.09" x2="48.5" y2="440.09" stroke="#444444" stroke-width="0.9" stroke-linecap="butt"/>
<line x1="46.5" y1="437.57" x2="48.5" y2="437.57" stroke="#444444" stroke-width="0.9" stroke-linecap="butt"/>
<line x1="46.5" y1="435.15" x2="48.5" y2="435.15" stroke="#444444" stroke-width="0.9" stroke-linecap="butt"/>
<line x1="46.5" y1="432.82" x2="48.5" y2="432.82" stroke="#444444" stroke-width="0.9" stroke-linecap="butt"/>
<line x1="46.5" y1="430.57" x2="48.5" y2="430.57" stroke="#444444" stroke-width="0.9" stroke-linecap="butt"/>
<line x1="46.5" y1="426.28" x2="48.5" y2="426.28" stroke="#444444" stroke-width="0.9" stroke-linecap="butt"/>
<line x1="46.5" y1="424.25" x2="48.5" y2="424.25" stroke="#444444" stroke-width="0.9" stroke-linecap="butt"/>
<line x1="46.5" y1="422.27" x2="48.5" y2="422.27" stroke="#444444" stroke-width="0.9" stroke-linecap="butt"/>
<line x1="46.5" y1="420.36" x2="48.5" y2="420.36" stroke="#444444" stroke-width="0.9" stroke-linecap="butt"/>
<text x="43.5" y="546.6" font-size="9.2" text-anchor="end" font-weight="normal" fill="#000">10</text>
<text x="43.5" y="502.11" font-size="9.2" text-anchor="end" font-weight="normal" fill="#000">20</text>
<text x="43.5" y="457.62" font-size="9.2" text-anchor="end" font-weight="normal" fill="#000">40</text>
<text x="43.5" y="431.59" font-size="9.2" text-anchor="end" font-weight="normal" fill="#000">60</text>
<line x1="63.43" y1="530.06" x2="107.03" y2="524.54" stroke="#bdbdbd" stroke-width="1" stroke-linecap="butt"/>
<line x1="113.6" y1="522.46" x2="164.4" y2="495.44" stroke="#bdbdbd" stroke-width="1" stroke-linecap="butt"/>
<line x1="170.48" y1="491.99" x2="219.23" y2="462.61" stroke="#bdbdbd" stroke-width="1" stroke-linecap="butt"/>
<line x1="63.23" y1="534.67" x2="107.23" y2="518.13" stroke="#333333" stroke-width="1.2" stroke-linecap="butt" stroke-dasharray="1.2 3.3"/>
<line x1="113.66" y1="515.39" x2="164.33" y2="491.21" stroke="#333333" stroke-width="1.2" stroke-linecap="butt" stroke-dasharray="1.2 3.3"/>
<line x1="170.68" y1="488.28" x2="219.03" y2="466.72" stroke="#333333" stroke-width="1.2" stroke-linecap="butt" stroke-dasharray="1.2 3.3"/>
<line x1="63.81" y1="487.23" x2="106.65" y2="475.37" stroke="#7a7a7a" stroke-width="1.1" stroke-linecap="butt" stroke-dasharray="4 3.5"/>
<line x1="114.19" y1="472.74" x2="163.8" y2="451.66" stroke="#7a7a7a" stroke-width="1.1" stroke-linecap="butt" stroke-dasharray="4 3.5"/>
<line x1="171.21" y1="448.64" x2="218.51" y2="430.16" stroke="#7a7a7a" stroke-width="1.1" stroke-linecap="butt" stroke-dasharray="4 3.5"/>
<rect x="57.46" y="528.01" width="4.98" height="4.98" fill="#c2c2c2" stroke="#c2c2c2" stroke-width="1"/>
<circle cx="110.51" cy="524.1" r="2.9" fill="#c2c2c2" stroke="#c2c2c2" stroke-width="1"/>
<polygon points="167.49,491.04 170.56,496.56 164.42,496.56" fill="#c2c2c2" stroke="#c2c2c2" stroke-width="1" stroke-linejoin="miter"/>
<polygon points="219.16,458.04 225.3,458.04 222.23,463.56" fill="#c2c2c2" stroke="#c2c2c2" stroke-width="1" stroke-linejoin="miter"/>
<rect x="57.65" y="533.6" width="4.61" height="4.61" fill="white" stroke="#333333" stroke-width="1.2"/>
<line x1="59.96" y1="533.7" x2="59.96" y2="538.1" stroke="#333333" stroke-width="0.8" stroke-linecap="butt"/>
<line x1="57.76" y1="535.9" x2="62.16" y2="535.9" stroke="#333333" stroke-width="0.8" stroke-linecap="butt"/>
<rect x="108.2" y="514.6" width="4.61" height="4.61" fill="white" stroke="#333333" stroke-width="1.2"/>
<line x1="110.51" y1="514.7" x2="110.51" y2="519.1" stroke="#333333" stroke-width="0.8" stroke-linecap="butt"/>
<line x1="108.31" y1="516.9" x2="112.71" y2="516.9" stroke="#333333" stroke-width="0.8" stroke-linecap="butt"/>
<rect x="165.18" y="487.4" width="4.61" height="4.61" fill="white" stroke="#333333" stroke-width="1.2"/>
<line x1="167.49" y1="487.5" x2="167.49" y2="491.9" stroke="#333333" stroke-width="0.8" stroke-linecap="butt"/>
<line x1="165.29" y1="489.7" x2="169.69" y2="489.7" stroke="#333333" stroke-width="0.8" stroke-linecap="butt"/>
<rect x="219.93" y="463" width="4.61" height="4.61" fill="white" stroke="#333333" stroke-width="1.2"/>
<line x1="222.23" y1="463.1" x2="222.23" y2="467.5" stroke="#333333" stroke-width="0.8" stroke-linecap="butt"/>
<line x1="220.03" y1="465.3" x2="224.43" y2="465.3" stroke="#333333" stroke-width="0.8" stroke-linecap="butt"/>
<rect x="57.47" y="485.81" width="4.97" height="4.97" fill="white" stroke="#6e6e6e" stroke-width="1.1"/>
<rect x="57.47" y="487.55" width="4.97" height="3.23" fill="#6e6e6e"/>
<circle cx="110.51" cy="474.3" r="2.9" fill="white" stroke="#6e6e6e" stroke-width="1.1"/>
<path d="M107.66 474.88A2.9 2.9 0 1 1 113.35 474.88Z" fill="#6e6e6e"/>
<polygon points="167.49,447.34 170.56,452.86 164.41,452.86" fill="white" stroke="#6e6e6e" stroke-width="1.1" stroke-linejoin="miter"/>
<polygon points="166.1,449.82 168.87,449.82 170.56,452.86 164.41,452.86" fill="#6e6e6e"/>
<polygon points="219.16,425.94 225.3,425.94 222.23,431.46" fill="white" stroke="#6e6e6e" stroke-width="1.1" stroke-linejoin="miter"/>
<polygon points="219.96,427.37 224.51,427.37 222.23,431.46" fill="#6e6e6e"/>
<line x1="50.5" y1="426" x2="75" y2="426" stroke="#888" stroke-width="1.2" stroke-linecap="butt" stroke-dasharray="1.2 3.6"/>
<rect x="59.64" y="423.04" width="5.92" height="5.92" fill="white" stroke="#333333" stroke-width="1.3"/>
<line x1="50.5" y1="438.2" x2="57.2" y2="438.2" stroke="#bbb" stroke-width="1" stroke-linecap="butt"/>
<line x1="68.2" y1="438.2" x2="75" y2="438.2" stroke="#bbb" stroke-width="1" stroke-linecap="butt"/>
<rect x="59.58" y="435.18" width="6.04" height="6.04" fill="#c2c2c2" stroke="#c2c2c2" stroke-width="1"/>
<line x1="50.5" y1="450.8" x2="75" y2="450.8" stroke="#999" stroke-width="1.2" stroke-linecap="butt" stroke-dasharray="3.5 6"/>
<rect x="59.86" y="448.06" width="5.49" height="5.49" fill="white" stroke="#6e6e6e" stroke-width="1.2"/>
<rect x="59.86" y="449.98" width="5.49" height="3.57" fill="#6e6e6e"/>
<text x="76.8" y="429.6" font-size="10.2" text-anchor="start" font-weight="normal" fill="#000">0.5:0</text>
<text x="76.8" y="441.8" font-size="10.2" text-anchor="start" font-weight="normal" fill="#000">0.65:0</text>
<text x="76.8" y="454" font-size="10.2" text-anchor="start" font-weight="normal" fill="#000">0.5:6.4</text>
<text x="25.4" y="530.3" font-size="16.2" text-anchor="start" font-weight="bold" fill="#000" transform="rotate(-90 25.4 530.3)">&lt;F<tspan font-size="11.4" dy="3.3">M</tspan><tspan dy="-3.3">&gt; (pN)</tspan></text>
<text x="0" y="421.3" font-size="24" text-anchor="start" font-weight="normal" fill="#333">(c)</text>
<text x="116.6" y="582.8" font-size="16" text-anchor="start" font-weight="normal" fill="#000" font-family="Liberation Serif">γ</text>
<circle cx="120.5" cy="570" r="1.0" fill="#000"/>
<text x="128.6" y="583.4" font-size="18" text-anchor="start" font-weight="bold" fill="#000">(s<tspan font-size="11.5" dy="-6">-1</tspan><tspan dy="6">)</tspan></text>
<line x1="272" y1="418.4" x2="454.1" y2="418.4" stroke="#505050" stroke-width="1.1" stroke-linecap="butt"/>
<line x1="272.5" y1="564.5" x2="454.1" y2="564.5" stroke="#505050" stroke-width="1.1" stroke-linecap="butt"/>
<line x1="272.5" y1="418.4" x2="272.5" y2="565" stroke="#505050" stroke-width="1.1" stroke-linecap="butt"/>
<line x1="453.6" y1="418.4" x2="453.6" y2="564.5" stroke="#505050" stroke-width="1.1" stroke-linecap="butt"/>
<line x1="288.3" y1="564.5" x2="288.3" y2="567.5" stroke="#444444" stroke-width="0.9" stroke-linecap="butt"/>
<line x1="453.7" y1="564.5" x2="453.7" y2="567.5" stroke="#444444" stroke-width="0.9" stroke-linecap="butt"/>
<line x1="280.73" y1="564.5" x2="280.73" y2="566.5" stroke="#444444" stroke-width="0.9" stroke-linecap="butt"/>
<line x1="338.09" y1="564.5" x2="338.09" y2="566.5" stroke="#444444" stroke-width="0.9" stroke-linecap="butt"/>
<line x1="367.22" y1="564.5" x2="367.22" y2="566.5" stroke="#444444" stroke-width="0.9" stroke-linecap="butt"/>
<line x1="387.88" y1="564.5" x2="387.88" y2="566.5" stroke="#444444" stroke-width="0.9" stroke-linecap="butt"/>
<line x1="403.91" y1="564.5" x2="403.91" y2="566.5" stroke="#444444" stroke-width="0.9" stroke-linecap="butt"/>
<line x1="417.01" y1="564.5" x2="417.01" y2="566.5" stroke="#444444" stroke-width="0.9" stroke-linecap="butt"/>
<line x1="428.08" y1="564.5" x2="428.08" y2="566.5" stroke="#444444" stroke-width="0.9" stroke-linecap="butt"/>
<line x1="437.67" y1="564.5" x2="437.67" y2="566.5" stroke="#444444" stroke-width="0.9" stroke-linecap="butt"/>
<line x1="446.13" y1="564.5" x2="446.13" y2="566.5" stroke="#444444" stroke-width="0.9" stroke-linecap="butt"/>
<text x="288.3" y="576.5" font-size="9.2" text-anchor="middle" font-weight="normal" fill="#000">10</text>
<text x="453.4" y="576.5" font-size="9.2" text-anchor="middle" font-weight="normal" fill="#000">100</text>
<line x1="269" y1="564.5" x2="272.5" y2="564.5" stroke="#444444" stroke-width="0.9" stroke-linecap="butt"/>
<line x1="269" y1="491.4" x2="272.5" y2="491.4" stroke="#444444" stroke-width="0.9" stroke-linecap="butt"/>
<line x1="270.5" y1="527.95" x2="272.5" y2="527.95" stroke="#444444" stroke-width="0.9" stroke-linecap="butt"/>
<line x1="270.5" y1="454.85" x2="272.5" y2="454.85" stroke="#444444" stroke-width="0.9" stroke-linecap="butt"/>
<text x="267.3" y="567.7" font-size="9.2" text-anchor="end" font-weight="normal" fill="#000">0.0</text>
<text x="267.3" y="494.6" font-size="9.2" text-anchor="end" font-weight="normal" fill="#000">0.2</text>
<line x1="287.15" y1="511.93" x2="331.11" y2="496.27" stroke="#c8c8c8" stroke-width="1" stroke-linecap="butt"/>
<line x1="336.96" y1="492.7" x2="388.83" y2="444" stroke="#c8c8c8" stroke-width="1" stroke-linecap="butt"/>
<line x1="394.82" y1="442.28" x2="442.7" y2="451.82" stroke="#c8c8c8" stroke-width="1" stroke-linecap="butt"/>
<line x1="287.35" y1="529.77" x2="330.91" y2="531.93" stroke="#333333" stroke-width="1.2" stroke-linecap="butt" stroke-dasharray="1.2 3.3"/>
<line x1="337.9" y1="532.31" x2="387.89" y2="535.39" stroke="#333333" stroke-width="1.2" stroke-linecap="butt" stroke-dasharray="1.2 3.3"/>
<line x1="394.83" y1="536.22" x2="442.69" y2="544.78" stroke="#333333" stroke-width="1.2" stroke-linecap="butt" stroke-dasharray="1.2 3.3"/>
<line x1="287.07" y1="539.58" x2="331.19" y2="558.52" stroke="#808080" stroke-width="1" stroke-linecap="butt"/>
<line x1="337.49" y1="558.25" x2="388.3" y2="531.05" stroke="#808080" stroke-width="1" stroke-linecap="butt"/>
<line x1="394.85" y1="529.91" x2="442.67" y2="536.99" stroke="#808080" stroke-width="1" stroke-linecap="butt"/>
<path d="M283.86 506.8V519.4M282.11 506.8H285.61M282.11 519.4H285.61" stroke="#c8c8c8" stroke-width="0.85" stroke-opacity="0.9" fill="none"/>
<rect x="281.36" y="510.61" width="4.98" height="4.98" fill="#c2c2c2" stroke="#c2c2c2" stroke-width="1"/>
<path d="M334.41 484.3V505.9M332.66 484.3H336.16M332.66 505.9H336.16" stroke="#c8c8c8" stroke-width="0.85" stroke-opacity="0.9" fill="none"/>
<circle cx="334.41" cy="495.1" r="2.9" fill="#c2c2c2" stroke="#c2c2c2" stroke-width="1"/>
<path d="M391.39 430.6V452.6M389.64 430.6H393.14M389.64 452.6H393.14" stroke="#c8c8c8" stroke-width="0.85" stroke-opacity="0.9" fill="none"/>
<polygon points="391.39,438.84 394.46,444.36 388.32,444.36" fill="#c2c2c2" stroke="#c2c2c2" stroke-width="1" stroke-linejoin="miter"/>
<path d="M446.13 447.1V457.9M444.38 447.1H447.88M444.38 457.9H447.88" stroke="#c8c8c8" stroke-width="0.85" stroke-opacity="0.9" fill="none"/>
<polygon points="443.06,449.74 449.2,449.74 446.13,455.26" fill="#a8a8a8" stroke="#a8a8a8" stroke-width="1" stroke-linejoin="miter"/>
<rect x="281.6" y="527.35" width="4.51" height="4.51" fill="white" stroke="#333333" stroke-width="1.3"/>
<line x1="282.06" y1="529.6" x2="285.66" y2="529.6" stroke="#333333" stroke-width="0.8" stroke-linecap="butt"/>
<circle cx="334.41" cy="532.1" r="2.65" fill="white" stroke="#333333" stroke-width="1.3"/>
<line x1="332.61" y1="532.1" x2="336.21" y2="532.1" stroke="#333333" stroke-width="0.8" stroke-linecap="butt"/>
<polygon points="391.39,533.08 394.2,538.12 388.57,538.12" fill="white" stroke="#555" stroke-width="1.3" stroke-linejoin="miter"/>
<line x1="389.59" y1="535.6" x2="393.19" y2="535.6" stroke="#333333" stroke-width="0.8" stroke-linecap="butt"/>
<polygon points="443.32,542.88 448.95,542.88 446.13,547.92" fill="white" stroke="#555" stroke-width="1.3" stroke-linejoin="miter"/>
<polygon points="444.05,544.19 448.21,544.19 446.13,547.92" fill="#555"/>
<line x1="444.33" y1="545.4" x2="447.93" y2="545.4" stroke="#333333" stroke-width="0.8" stroke-linecap="butt"/>
<rect x="281.41" y="535.76" width="4.88" height="4.88" fill="white" stroke="#7c7c7c" stroke-width="1.1"/>
<rect x="281.41" y="537.47" width="4.88" height="3.17" fill="#7c7c7c"/>
<circle cx="334.41" cy="559.9" r="2.85" fill="white" stroke="#7c7c7c" stroke-width="1.1"/>
<path d="M331.61 560.47A2.85 2.85 0 1 1 337.2 560.47Z" fill="#7c7c7c"/>
<polygon points="391.39,526.69 394.41,532.11 388.37,532.11" fill="white" stroke="#7c7c7c" stroke-width="1.1" stroke-linejoin="miter"/>
<polygon points="390.03,529.13 392.74,529.13 394.41,532.11 388.37,532.11" fill="#7c7c7c"/>
<polygon points="443.11,534.79 449.15,534.79 446.13,540.21" fill="white" stroke="#7c7c7c" stroke-width="1.1" stroke-linejoin="miter"/>
<polygon points="443.9,536.2 448.37,536.2 446.13,540.21" fill="#7c7c7c"/>
<text x="247" y="515.8" font-size="15.2" text-anchor="start" font-weight="normal" fill="#000" transform="rotate(-90 247 515.8)"><tspan font-family="Liberation Serif">Δ</tspan><tspan font-weight="bold">f</tspan><tspan font-weight="bold" font-size="12" dy="3.4">decay</tspan></text>
<text x="236.7" y="421.2" font-size="24" text-anchor="start" font-weight="normal" fill="#333">(d)</text>
<text x="337.5" y="582.8" font-size="16" text-anchor="start" font-weight="normal" fill="#000" font-family="Liberation Serif">γ</text>
<circle cx="341.4" cy="570" r="1.0" fill="#000"/>
<text x="349.5" y="583.4" font-size="18" text-anchor="start" font-weight="bold" fill="#000">(s<tspan font-size="11.5" dy="-6">-1</tspan><tspan dy="6">)</tspan></text>
<line x1="495.5" y1="418.4" x2="677.75" y2="418.4" stroke="#505050" stroke-width="1.1" stroke-linecap="butt"/>
<line x1="496" y1="564.4" x2="677.75" y2="564.4" stroke="#505050" stroke-width="1.1" stroke-linecap="butt"/>
<line x1="496" y1="418.4" x2="496" y2="564.9" stroke="#505050" stroke-width="1.1" stroke-linecap="butt"/>
<line x1="677.25" y1="418.4" x2="677.25" y2="564.4" stroke="#505050" stroke-width="1.1" stroke-linecap="butt"/>
<line x1="511.8" y1="564.4" x2="511.8" y2="567.4" stroke="#444444" stroke-width="0.9" stroke-linecap="butt"/>
<line x1="677.2" y1="564.4" x2="677.2" y2="567.4" stroke="#444444" stroke-width="0.9" stroke-linecap="butt"/>
<line x1="504.23" y1="564.4" x2="504.23" y2="566.4" stroke="#444444" stroke-width="0.9" stroke-linecap="butt"/>
<line x1="561.59" y1="564.4" x2="561.59" y2="566.4" stroke="#444444" stroke-width="0.9" stroke-linecap="butt"/>
<line x1="590.72" y1="564.4" x2="590.72" y2="566.4" stroke="#444444" stroke-width="0.9" stroke-linecap="butt"/>
<line x1="611.38" y1="564.4" x2="611.38" y2="566.4" stroke="#444444" stroke-width="0.9" stroke-linecap="butt"/>
<line x1="627.41" y1="564.4" x2="627.41" y2="566.4" stroke="#444444" stroke-width="0.9" stroke-linecap="butt"/>
<line x1="640.51" y1="564.4" x2="640.51" y2="566.4" stroke="#444444" stroke-width="0.9" stroke-linecap="butt"/>
<line x1="651.58" y1="564.4" x2="651.58" y2="566.4" stroke="#444444" stroke-width="0.9" stroke-linecap="butt"/>
<line x1="661.17" y1="564.4" x2="661.17" y2="566.4" stroke="#444444" stroke-width="0.9" stroke-linecap="butt"/>
<line x1="669.63" y1="564.4" x2="669.63" y2="566.4" stroke="#444444" stroke-width="0.9" stroke-linecap="butt"/>
<text x="511.8" y="576.4" font-size="9.2" text-anchor="middle" font-weight="normal" fill="#000">10</text>
<text x="676.9" y="576.4" font-size="9.2" text-anchor="middle" font-weight="normal" fill="#000">100</text>
<line x1="492.5" y1="467.1" x2="496" y2="467.1" stroke="#444444" stroke-width="0.9" stroke-linecap="butt"/>
<line x1="492.5" y1="515.7" x2="496" y2="515.7" stroke="#444444" stroke-width="0.9" stroke-linecap="butt"/>
<line x1="492.5" y1="564.3" x2="496" y2="564.3" stroke="#444444" stroke-width="0.9" stroke-linecap="butt"/>
<line x1="494" y1="442.8" x2="496" y2="442.8" stroke="#444444" stroke-width="0.9" stroke-linecap="butt"/>
<line x1="494" y1="491.4" x2="496" y2="491.4" stroke="#444444" stroke-width="0.9" stroke-linecap="butt"/>
<line x1="494" y1="540" x2="496" y2="540" stroke="#444444" stroke-width="0.9" stroke-linecap="butt"/>
<text x="490.8" y="470.3" font-size="9.2" text-anchor="end" font-weight="normal" fill="#000">0.0</text>
<text x="490.8" y="518.9" font-size="9.2" text-anchor="end" font-weight="normal" fill="#000">-0.2</text>
<text x="490.8" y="567.5" font-size="9.2" text-anchor="end" font-weight="normal" fill="#000">-0.4</text>
<line x1="496" y1="467.1" x2="680.25" y2="467.1" stroke="#444" stroke-width="1.3" stroke-linecap="butt" stroke-dasharray="3.6 3.0"/>
<line x1="510.7" y1="477.94" x2="554.56" y2="491.56" stroke="#c8c8c8" stroke-width="1" stroke-linecap="butt"/>
<line x1="560.88" y1="494.45" x2="611.91" y2="526.25" stroke="#c8c8c8" stroke-width="1" stroke-linecap="butt"/>
<line x1="618.38" y1="528.19" x2="666.13" y2="529.41" stroke="#c8c8c8" stroke-width="1" stroke-linecap="butt"/>
<line x1="510.84" y1="464.32" x2="554.42" y2="460.78" stroke="#333333" stroke-width="1.2" stroke-linecap="butt" stroke-dasharray="1.2 3.3"/>
<line x1="561.33" y1="461.24" x2="611.46" y2="472.06" stroke="#333333" stroke-width="1.2" stroke-linecap="butt" stroke-dasharray="1.2 3.3"/>
<line x1="618.37" y1="472.42" x2="666.15" y2="467.28" stroke="#333333" stroke-width="1.2" stroke-linecap="butt" stroke-dasharray="1.2 3.3"/>
<line x1="510.85" y1="435.7" x2="554.41" y2="434.5" stroke="#707070" stroke-width="1" stroke-linecap="butt"/>
<line x1="561.17" y1="435.65" x2="611.62" y2="454.95" stroke="#707070" stroke-width="1" stroke-linecap="butt"/>
<line x1="618.36" y1="456.66" x2="666.16" y2="462.94" stroke="#707070" stroke-width="1" stroke-linecap="butt"/>
<rect x="504.86" y="474.41" width="4.98" height="4.98" fill="#c2c2c2" stroke="#c2c2c2" stroke-width="1"/>
<path d="M557.91 489.1V496.1M556.16 489.1H559.66M556.16 496.1H559.66" stroke="#c8c8c8" stroke-width="0.85" stroke-opacity="0.9" fill="none"/>
<circle cx="557.91" cy="492.6" r="2.9" fill="#c2c2c2" stroke="#c2c2c2" stroke-width="1"/>
<path d="M614.89 523.1V533.1M613.14 523.1H616.64M613.14 533.1H616.64" stroke="#c8c8c8" stroke-width="0.85" stroke-opacity="0.9" fill="none"/>
<polygon points="614.89,525.34 617.96,530.86 611.82,530.86" fill="#c2c2c2" stroke="#c2c2c2" stroke-width="1" stroke-linejoin="miter"/>
<polygon points="666.56,526.74 672.7,526.74 669.63,532.26" fill="#b0b0b0" stroke="#b0b0b0" stroke-width="1" stroke-linejoin="miter"/>
<rect x="505.13" y="462.37" width="4.46" height="4.46" fill="white" stroke="#444" stroke-width="1"/>
<line x1="507.36" y1="462.1" x2="507.36" y2="467.1" stroke="#444" stroke-width="0.8" stroke-linecap="butt"/>
<line x1="504.86" y1="464.6" x2="509.86" y2="464.6" stroke="#444" stroke-width="0.8" stroke-linecap="butt"/>
<rect x="555.68" y="458.27" width="4.46" height="4.46" fill="white" stroke="#444" stroke-width="1"/>
<line x1="557.91" y1="458" x2="557.91" y2="463" stroke="#444" stroke-width="0.8" stroke-linecap="butt"/>
<line x1="555.41" y1="460.5" x2="560.41" y2="460.5" stroke="#444" stroke-width="0.8" stroke-linecap="butt"/>
<rect x="612.66" y="470.57" width="4.46" height="4.46" fill="white" stroke="#444" stroke-width="1"/>
<line x1="614.89" y1="470.3" x2="614.89" y2="475.3" stroke="#444" stroke-width="0.8" stroke-linecap="butt"/>
<line x1="612.39" y1="472.8" x2="617.39" y2="472.8" stroke="#444" stroke-width="0.8" stroke-linecap="butt"/>
<rect x="667.4" y="464.67" width="4.46" height="4.46" fill="white" stroke="#444" stroke-width="1"/>
<line x1="669.63" y1="464.4" x2="669.63" y2="469.4" stroke="#444" stroke-width="0.8" stroke-linecap="butt"/>
<line x1="667.13" y1="466.9" x2="672.13" y2="466.9" stroke="#444" stroke-width="0.8" stroke-linecap="butt"/>
<rect x="504.91" y="433.36" width="4.88" height="4.88" fill="white" stroke="#6e6e6e" stroke-width="1.1"/>
<rect x="504.91" y="435.07" width="4.88" height="3.17" fill="#6e6e6e"/>
<circle cx="557.91" cy="434.4" r="2.85" fill="white" stroke="#6e6e6e" stroke-width="1.1"/>
<path d="M555.11 434.97A2.85 2.85 0 1 1 560.7 434.97Z" fill="#6e6e6e"/>
<polygon points="614.89,453.49 617.91,458.91 611.87,458.91" fill="white" stroke="#6e6e6e" stroke-width="1.1" stroke-linejoin="miter"/>
<polygon points="613.53,455.93 616.24,455.93 617.91,458.91 611.87,458.91" fill="#6e6e6e"/>
<polygon points="666.61,460.69 672.65,460.69 669.63,466.11" fill="white" stroke="#6e6e6e" stroke-width="1.1" stroke-linejoin="miter"/>
<polygon points="667.4,462.1 671.87,462.1 669.63,466.11" fill="#6e6e6e"/>
<text x="470.8" y="501.8" font-size="15.2" text-anchor="start" font-weight="normal" fill="#000" transform="rotate(-90 470.8 501.8)"><tspan font-family="Liberation Serif">Δ</tspan><tspan font-weight="bold">f</tspan><tspan font-weight="bold" font-size="12" dy="3.4">t</tspan></text>
<text x="461.4" y="421.2" font-size="24" text-anchor="start" font-weight="normal" fill="#333">(e)</text>
<text x="561.6" y="582.8" font-size="16" text-anchor="start" font-weight="normal" fill="#000" font-family="Liberation Serif">γ</text>
<circle cx="565.5" cy="570" r="1.0" fill="#000"/>
<text x="573.6" y="583.4" font-size="18" text-anchor="start" font-weight="bold" fill="#000">(s<tspan font-size="11.5" dy="-6">-1</tspan><tspan dy="6">)</tspan></text>
</svg>
</body></html>
